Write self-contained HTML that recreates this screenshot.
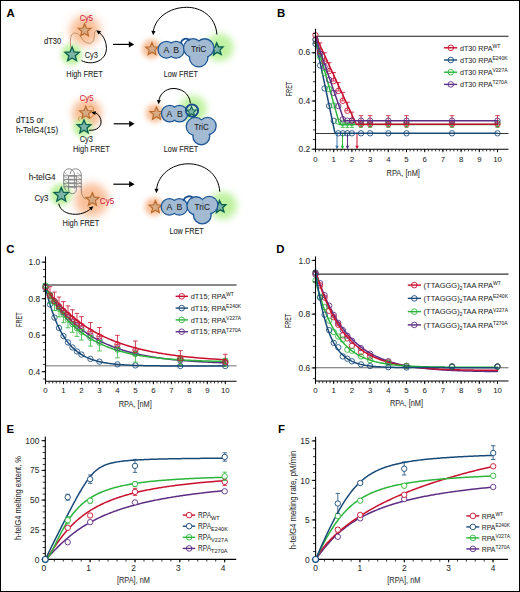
<!DOCTYPE html>
<html><head><meta charset="utf-8"><title>Figure</title>
<style>
html,body{margin:0;padding:0;background:#fff;}
body{width:520px;height:592px;overflow:hidden;font-family:"Liberation Sans",sans-serif;}
svg{display:block;}
</style></head><body>
<svg width="520" height="592" viewBox="0 0 520 592" style="font-family:&quot;Liberation Sans&quot;, sans-serif">
<defs>
<filter id="b24_2" x="-100%" y="-100%" width="300%" height="300%"><feGaussianBlur stdDeviation="2.42"/></filter><filter id="b25_3" x="-100%" y="-100%" width="300%" height="300%"><feGaussianBlur stdDeviation="2.53"/></filter><filter id="b27_5" x="-100%" y="-100%" width="300%" height="300%"><feGaussianBlur stdDeviation="2.75"/></filter><filter id="b28_6" x="-100%" y="-100%" width="300%" height="300%"><feGaussianBlur stdDeviation="2.86"/></filter><filter id="b35_2" x="-100%" y="-100%" width="300%" height="300%"><feGaussianBlur stdDeviation="3.52"/></filter><filter id="b36_3" x="-100%" y="-100%" width="300%" height="300%"><feGaussianBlur stdDeviation="3.63"/></filter><filter id="b38_5" x="-100%" y="-100%" width="300%" height="300%"><feGaussianBlur stdDeviation="3.85"/></filter><filter id="b40_04" x="-100%" y="-100%" width="300%" height="300%"><feGaussianBlur stdDeviation="4"/></filter><filter id="b44" x="-100%" y="-100%" width="300%" height="300%"><feGaussianBlur stdDeviation="4.4"/></filter>
</defs>
<rect x="0" y="0" width="520" height="592" fill="#fff"/>
<text x="6.6" y="16.9" font-size="11.4" text-anchor="start" fill="#000" font-weight="bold">A</text>
<circle cx="85" cy="30.8" r="15.29" fill="#f9c09a" filter="url(#b40_04)"/>
<circle cx="71.5" cy="54.5" r="10.5" fill="#bff2a0" filter="url(#b27_5)"/>
<path d="M70.6,47.5 C70.2,41 70.3,36 72.2,34.2 C74.8,32 78.5,33.2 80.5,36.5 C82.5,40 85,43 89.5,43.2 C93,43.3 93.9,40 94.2,36.5 C94.4,33.5 94.6,31 96.3,30.2" stroke="#b88a62" stroke-width="0.9" fill="none"/>
<path d="M84.6,23.7 L86.37,27.96 L90.97,28.33 L87.47,31.33 L88.54,35.82 L84.6,33.41 L80.66,35.82 L81.73,31.33 L78.23,28.33 L82.83,27.96Z" stroke="#b9692a" stroke-width="1.15" fill="#d6ab86" stroke-linejoin="miter"/>
<path d="M72.1,47.1 L74.08,51.87 L79.23,52.28 L75.31,55.64 L76.51,60.67 L72.1,57.98 L67.69,60.67 L68.89,55.64 L64.97,52.28 L70.12,51.87Z" stroke="#0a604e" stroke-width="1.35" fill="#7db6a7" stroke-linejoin="miter"/>
<path d="M81.5,60.6 C93,66.5 108,60 106.3,46 C105.5,39 102,34.5 98.8,32.2" stroke="#000" stroke-width="1" fill="none"/>
<path d="M96.2,30.2 L101.06,31.22 L98.54,34.58 Z" fill="#000"/>
<text x="86.3" y="20.7" font-size="8.6" text-anchor="middle" fill="#d2203f" font-weight="normal" textLength="13.2" lengthAdjust="spacingAndGlyphs" stroke="#d2203f" stroke-width="0.08">Cy5</text>
<text x="44" y="44.2" font-size="8.6" text-anchor="start" fill="#1e1e1e" font-weight="normal" textLength="17.3" lengthAdjust="spacingAndGlyphs" stroke="#1e1e1e" stroke-width="0.08">dT30</text>
<text x="84.8" y="57.5" font-size="8.6" text-anchor="start" fill="#1e1e1e" font-weight="normal" textLength="13.1" lengthAdjust="spacingAndGlyphs" stroke="#1e1e1e" stroke-width="0.08">Cy3</text>
<text x="66.3" y="76.9" font-size="8.6" text-anchor="start" fill="#1e1e1e" font-weight="normal" textLength="36.5" lengthAdjust="spacingAndGlyphs" stroke="#1e1e1e" stroke-width="0.08">High FRET</text>
<line x1="113" y1="44.4" x2="130" y2="44.4" stroke="#000" stroke-width="1.2"/>
<path d="M134.2,44.4 L128.8,47.5 L128.8,41.3 Z" fill="#000"/>
<circle cx="151.5" cy="49" r="9.66" fill="#f9c09a" filter="url(#b25_3)"/>
<circle cx="219.5" cy="47.5" r="13.86" fill="#bff2a0" filter="url(#b36_3)"/>
<path d="M152,42.6 L153.75,46.8 L158.28,47.16 L154.82,50.12 L155.88,54.54 L152,52.17 L148.12,54.54 L149.18,50.12 L145.72,47.16 L150.25,46.8Z" stroke="#b9692a" stroke-width="1.15" fill="#d6ab86" stroke-linejoin="miter"/>
<circle cx="166.4" cy="49.7" r="7.7" stroke="#1c5696" stroke-width="2.6" fill="#a2bbd3"/>
<circle cx="176" cy="49.7" r="7.7" stroke="#1c5696" stroke-width="2.6" fill="#a2bbd3"/>
<circle cx="166.4" cy="49.7" r="7.7" stroke="none" stroke-width="1" fill="#a2bbd3"/>
<circle cx="176" cy="49.7" r="7.7" stroke="none" stroke-width="1" fill="#a2bbd3"/>
<path d="M216.55,42.92 L218.55,46.92 L223.03,46.97 L219.84,50.11 L221.18,54.38 L217.2,52.32 L213.56,54.91 L214.29,50.5 L210.69,47.83 L215.12,47.16Z" stroke="#0a604e" stroke-width="1.35" fill="#7db6a7" stroke-linejoin="miter"/>
<circle cx="192.9" cy="48" r="8.7" stroke="#1c5696" stroke-width="2.6" fill="#a2bbd3"/>
<circle cx="204.7" cy="48" r="8.6" stroke="#1c5696" stroke-width="2.6" fill="#a2bbd3"/>
<circle cx="198.7" cy="57.6" r="8.6" stroke="#1c5696" stroke-width="2.6" fill="#a2bbd3"/>
<circle cx="192.9" cy="48" r="8.7" stroke="none" stroke-width="1" fill="#a2bbd3"/>
<circle cx="204.7" cy="48" r="8.6" stroke="none" stroke-width="1" fill="#a2bbd3"/>
<circle cx="198.7" cy="57.6" r="8.6" stroke="none" stroke-width="1" fill="#a2bbd3"/>
<path d="M180.8,43.4 C181.9,38.6 187.0,37.0 189.6,40.6" stroke="#1b5190" stroke-width="1.8" fill="none"/>
<text x="166.4" y="52.6" font-size="8.7" text-anchor="middle" fill="#1e1e1e" font-weight="normal" stroke="#1e1e1e" stroke-width="0.08">A</text>
<text x="176.2" y="52.6" font-size="8.7" text-anchor="middle" fill="#1e1e1e" font-weight="normal" stroke="#1e1e1e" stroke-width="0.08">B</text>
<text x="198.6" y="52.4" font-size="9" text-anchor="middle" fill="#1e1e1e" font-weight="normal" textLength="15.4" lengthAdjust="spacingAndGlyphs" stroke="#1e1e1e" stroke-width="0.08">TriC</text>
<path d="M216.9,34.5 C215.5,16 201,7.2 186.5,7.3 C169,7.5 155.5,18 153.4,30.8" stroke="#000" stroke-width="1" fill="none"/>
<path d="M153.2,35.3 L151.33,30.7 L155.52,30.91 Z" fill="#000"/>
<text x="163.8" y="76.9" font-size="8.6" text-anchor="start" fill="#1e1e1e" font-weight="normal" textLength="34.2" lengthAdjust="spacingAndGlyphs" stroke="#1e1e1e" stroke-width="0.08">Low FRET</text>
<circle cx="87" cy="113.5" r="14.7" fill="#f9c09a" filter="url(#b38_5)"/>
<circle cx="83" cy="127.5" r="9.66" fill="#bff2a0" filter="url(#b25_3)"/>
<path d="M79.5,121 C77.8,118.5 79,116.5 80.8,116.2" stroke="#d4863a" stroke-width="0.9" fill="none"/>
<path d="M88.5,107.5 C90,105.3 92.5,105.5 93.2,107.8 C93.8,110 92.8,112 93.3,113.8 C93.8,116 91.5,117.8 89.3,117.4" stroke="#d4863a" stroke-width="0.9" fill="none"/>
<path d="M85.8,106.3 L87.55,110.5 L92.08,110.86 L88.62,113.82 L89.68,118.24 L85.8,115.87 L81.92,118.24 L82.98,113.82 L79.52,110.86 L84.05,110.5Z" stroke="#b9692a" stroke-width="1.15" fill="#d6ab86" stroke-linejoin="miter"/>
<path d="M84,119.9 L85.88,124.42 L90.75,124.81 L87.04,127.99 L88.17,132.74 L84,130.19 L79.83,132.74 L80.96,127.99 L77.25,124.81 L82.12,124.42Z" stroke="#0a604e" stroke-width="1.35" fill="#7db6a7" stroke-linejoin="miter"/>
<path d="M89,130.2 C96.5,131 102.5,126.5 100.8,119.5 C99.8,116 97.5,113.5 95.2,112.8" stroke="#000" stroke-width="1" fill="none"/>
<path d="M91.4,112.4 L95.85,111.05 L95.26,115 Z" fill="#000"/>
<text x="86.6" y="101" font-size="8.6" text-anchor="middle" fill="#d2203f" font-weight="normal" textLength="13.6" lengthAdjust="spacingAndGlyphs" stroke="#d2203f" stroke-width="0.08">Cy5</text>
<text x="86.2" y="141.8" font-size="8.6" text-anchor="middle" fill="#1e1e1e" font-weight="normal" textLength="13.1" lengthAdjust="spacingAndGlyphs" stroke="#1e1e1e" stroke-width="0.08">Cy3</text>
<text x="73" y="152.3" font-size="8.6" text-anchor="start" fill="#1e1e1e" font-weight="normal" textLength="36.8" lengthAdjust="spacingAndGlyphs" stroke="#1e1e1e" stroke-width="0.08">High FRET</text>
<text x="15.9" y="122.6" font-size="8.6" text-anchor="start" fill="#1e1e1e" font-weight="normal" textLength="27.9" lengthAdjust="spacingAndGlyphs" stroke="#1e1e1e" stroke-width="0.08">dT15 or</text>
<text x="15.9" y="132.7" font-size="8.6" text-anchor="start" fill="#1e1e1e" font-weight="normal" textLength="42.3" lengthAdjust="spacingAndGlyphs" stroke="#1e1e1e" stroke-width="0.08">h-TelG4(15)</text>
<line x1="113.7" y1="123.8" x2="130" y2="123.8" stroke="#000" stroke-width="1.2"/>
<path d="M134.6,123.8 L129.2,126.9 L129.2,120.7 Z" fill="#000"/>
<circle cx="155" cy="113.3" r="9.24" fill="#f9c09a" filter="url(#b24_2)"/>
<circle cx="193" cy="109" r="13.44" fill="#bff2a0" filter="url(#b35_2)"/>
<path d="M156.5,106.9 L158.3,111.22 L162.97,111.6 L159.41,114.65 L160.5,119.2 L156.5,116.76 L152.5,119.2 L153.59,114.65 L150.03,111.6 L154.7,111.22Z" stroke="#b9692a" stroke-width="1.15" fill="#d6ab86" stroke-linejoin="miter"/>
<circle cx="169.7" cy="113.6" r="7.6" stroke="#1c5696" stroke-width="2.6" fill="#a2bbd3"/>
<circle cx="179.5" cy="113.6" r="7.6" stroke="#1c5696" stroke-width="2.6" fill="#a2bbd3"/>
<circle cx="169.7" cy="113.6" r="7.6" stroke="none" stroke-width="1" fill="#a2bbd3"/>
<circle cx="179.5" cy="113.6" r="7.6" stroke="none" stroke-width="1" fill="#a2bbd3"/>
<circle cx="195.3" cy="126.5" r="8.4" stroke="#1c5696" stroke-width="2.6" fill="#a2bbd3"/>
<circle cx="207.5" cy="126" r="8" stroke="#1c5696" stroke-width="2.6" fill="#a2bbd3"/>
<circle cx="201.3" cy="136.3" r="7.8" stroke="#1c5696" stroke-width="2.6" fill="#a2bbd3"/>
<circle cx="195.3" cy="126.5" r="8.4" stroke="none" stroke-width="1" fill="#a2bbd3"/>
<circle cx="207.5" cy="126" r="8" stroke="none" stroke-width="1" fill="#a2bbd3"/>
<circle cx="201.3" cy="136.3" r="7.8" stroke="none" stroke-width="1" fill="#a2bbd3"/>
<circle cx="192" cy="110.6" r="6.1" stroke="#1b4e8c" stroke-width="2" fill="#c4ecc0"/>
<path d="M191.5,106.4 L192.88,109.71 L196.45,109.99 L193.73,112.32 L194.56,115.81 L191.5,113.94 L188.44,115.81 L189.27,112.32 L186.55,109.99 L190.12,109.71Z" stroke="#0a604e" stroke-width="1.05" fill="#7db6a7" stroke-linejoin="miter"/>
<text x="169.3" y="116.5" font-size="8.7" text-anchor="middle" fill="#1e1e1e" font-weight="normal" stroke="#1e1e1e" stroke-width="0.08">A</text>
<text x="179.8" y="116.5" font-size="8.7" text-anchor="middle" fill="#1e1e1e" font-weight="normal" stroke="#1e1e1e" stroke-width="0.08">B</text>
<text x="201.4" y="130.3" font-size="9" text-anchor="middle" fill="#1e1e1e" font-weight="normal" textLength="14.5" lengthAdjust="spacingAndGlyphs" stroke="#1e1e1e" stroke-width="0.08">TriC</text>
<path d="M190.4,103.4 C189.5,93 181,88.3 173,88.5 C165,88.8 159.8,94.5 158.9,100.5" stroke="#000" stroke-width="1" fill="none"/>
<path d="M158.6,104.2 L156.88,100.07 L160.87,100.35 Z" fill="#000"/>
<text x="163.8" y="152.3" font-size="8.6" text-anchor="start" fill="#1e1e1e" font-weight="normal" textLength="34.5" lengthAdjust="spacingAndGlyphs" stroke="#1e1e1e" stroke-width="0.08">Low FRET</text>
<circle cx="91.5" cy="200" r="16.8" fill="#f9c09a" filter="url(#b44)"/>
<circle cx="61" cy="194.5" r="10.92" fill="#bff2a0" filter="url(#b28_6)"/>
<text x="28.7" y="179.9" font-size="8.6" text-anchor="start" fill="#1e1e1e" font-weight="normal" textLength="26.9" lengthAdjust="spacingAndGlyphs" stroke="#1e1e1e" stroke-width="0.08">h-telG4</text>
<path d="M66.5,190.3 C64.6,189.4 63.7,186.5 63.7,183 L63.7,175 C63.7,171.2 66,168.8 69,168.8 C72,168.8 74.4,171.4 74.4,175 L74.4,188.5" stroke="#737373" stroke-width="0.85" fill="none"/>
<path d="M70.2,174 C70.2,171 72.5,168.8 75.6,168.8 C79,168.8 81.3,171.6 81.3,175.5 L81.3,190.5" stroke="#737373" stroke-width="0.85" fill="none"/>
<path d="M68.6,176 L68.6,189.5 C68.6,192.2 70.2,193.7 72.4,193.7 C74.6,193.7 76.3,192.2 76.3,189.5 L76.3,176" stroke="#737373" stroke-width="0.85" fill="none"/>
<path d="M81.3,190 C81.3,194.3 82.6,197.6 85.8,199.3" stroke="#9c7a5c" stroke-width="0.9" fill="none"/>
<line x1="63.7" y1="175.8" x2="81.3" y2="175.8" stroke="#737373" stroke-width="0.85"/>
<rect x="68.6" y="174.95" width="7.7" height="1.7" fill="#8c8c8c"/>
<line x1="63.7" y1="179.6" x2="81.3" y2="179.6" stroke="#737373" stroke-width="0.85"/>
<rect x="68.6" y="178.75" width="7.7" height="1.7" fill="#8c8c8c"/>
<line x1="63.7" y1="183.3" x2="81.3" y2="183.3" stroke="#737373" stroke-width="0.85"/>
<rect x="68.6" y="182.45" width="7.7" height="1.7" fill="#8c8c8c"/>
<line x1="63.7" y1="186.8" x2="81.3" y2="186.8" stroke="#737373" stroke-width="0.85"/>
<rect x="68.6" y="185.95" width="7.7" height="1.7" fill="#8c8c8c"/>
<line x1="64.2" y1="172.3" x2="68.6" y2="175.8" stroke="#737373" stroke-width="0.55"/>
<line x1="76.6" y1="172.3" x2="81" y2="175.8" stroke="#737373" stroke-width="0.55"/>
<line x1="64.2" y1="176.6" x2="68.6" y2="179.6" stroke="#737373" stroke-width="0.55"/>
<line x1="76.6" y1="176.6" x2="81" y2="179.6" stroke="#737373" stroke-width="0.55"/>
<line x1="64.2" y1="180.4" x2="68.6" y2="183.3" stroke="#737373" stroke-width="0.55"/>
<line x1="76.6" y1="180.4" x2="81" y2="183.3" stroke="#737373" stroke-width="0.55"/>
<line x1="64.2" y1="184.1" x2="68.6" y2="186.8" stroke="#737373" stroke-width="0.55"/>
<line x1="76.6" y1="184.1" x2="81" y2="186.8" stroke="#737373" stroke-width="0.55"/>
<path d="M61.3,187.4 L63.31,192.23 L68.53,192.65 L64.55,196.06 L65.77,201.15 L61.3,198.42 L56.83,201.15 L58.05,196.06 L54.07,192.65 L59.29,192.23Z" stroke="#0a604e" stroke-width="1.35" fill="#7db6a7" stroke-linejoin="miter"/>
<path d="M92.4,192.7 L94.23,197.09 L98.96,197.47 L95.35,200.56 L96.46,205.18 L92.4,202.7 L88.34,205.18 L89.45,200.56 L85.84,197.47 L90.57,197.09Z" stroke="#b9692a" stroke-width="1.15" fill="#d6ab86" stroke-linejoin="miter"/>
<path d="M58.7,203.6 C60,210.5 67,214.4 75.5,214.3 C83,214.2 88,211 90.6,208.8" stroke="#000" stroke-width="1" fill="none"/>
<path d="M93.4,206.3 L91.42,210.61 L88.83,207.56 Z" fill="#000"/>
<text x="34.4" y="201.2" font-size="8.6" text-anchor="start" fill="#1e1e1e" font-weight="normal" textLength="14.1" lengthAdjust="spacingAndGlyphs" stroke="#1e1e1e" stroke-width="0.08">Cy3</text>
<text x="99.8" y="204" font-size="8.6" text-anchor="start" fill="#d2203f" font-weight="normal" textLength="14.4" lengthAdjust="spacingAndGlyphs" stroke="#d2203f" stroke-width="0.08">Cy5</text>
<text x="62.5" y="226.3" font-size="8.6" text-anchor="start" fill="#1e1e1e" font-weight="normal" textLength="36.9" lengthAdjust="spacingAndGlyphs" stroke="#1e1e1e" stroke-width="0.08">High FRET</text>
<line x1="113.3" y1="184.2" x2="130" y2="184.2" stroke="#000" stroke-width="1.2"/>
<path d="M134.6,184.2 L129.2,187.3 L129.2,181.1 Z" fill="#000"/>
<circle cx="154" cy="206.8" r="9.24" fill="#f9c09a" filter="url(#b24_2)"/>
<circle cx="223" cy="205.5" r="13.86" fill="#bff2a0" filter="url(#b36_3)"/>
<path d="M155.4,200.6 L157.15,204.8 L161.68,205.16 L158.22,208.12 L159.28,212.54 L155.4,210.17 L151.52,212.54 L152.58,208.12 L149.12,205.16 L153.65,204.8Z" stroke="#b9692a" stroke-width="1.15" fill="#d6ab86" stroke-linejoin="miter"/>
<circle cx="169.4" cy="206.8" r="7.6" stroke="#1c5696" stroke-width="2.6" fill="#a2bbd3"/>
<circle cx="179.4" cy="206.8" r="7.6" stroke="#1c5696" stroke-width="2.6" fill="#a2bbd3"/>
<circle cx="169.4" cy="206.8" r="7.6" stroke="none" stroke-width="1" fill="#a2bbd3"/>
<circle cx="179.4" cy="206.8" r="7.6" stroke="none" stroke-width="1" fill="#a2bbd3"/>
<path d="M219.45,200.62 L221.43,204.56 L225.83,204.6 L222.69,207.7 L224.01,211.9 L220.1,209.87 L216.51,212.43 L217.23,208.08 L213.69,205.45 L218.05,204.79Z" stroke="#0a604e" stroke-width="1.35" fill="#7db6a7" stroke-linejoin="miter"/>
<circle cx="196" cy="205.8" r="8.4" stroke="#1c5696" stroke-width="2.6" fill="#a2bbd3"/>
<circle cx="209.2" cy="205" r="8" stroke="#1c5696" stroke-width="2.6" fill="#a2bbd3"/>
<circle cx="202.3" cy="215" r="8.2" stroke="#1c5696" stroke-width="2.6" fill="#a2bbd3"/>
<circle cx="196" cy="205.8" r="8.4" stroke="none" stroke-width="1" fill="#a2bbd3"/>
<circle cx="209.2" cy="205" r="8" stroke="none" stroke-width="1" fill="#a2bbd3"/>
<circle cx="202.3" cy="215" r="8.2" stroke="none" stroke-width="1" fill="#a2bbd3"/>
<path d="M183.4,201.0 C184.6,196.3 189.8,194.8 193.0,198.0" stroke="#1b5190" stroke-width="1.8" fill="none"/>
<text x="169.4" y="209.7" font-size="8.7" text-anchor="middle" fill="#1e1e1e" font-weight="normal" stroke="#1e1e1e" stroke-width="0.08">A</text>
<text x="179.4" y="209.7" font-size="8.7" text-anchor="middle" fill="#1e1e1e" font-weight="normal" stroke="#1e1e1e" stroke-width="0.08">B</text>
<text x="202.2" y="209.8" font-size="9" text-anchor="middle" fill="#1e1e1e" font-weight="normal" textLength="15.4" lengthAdjust="spacingAndGlyphs" stroke="#1e1e1e" stroke-width="0.08">TriC</text>
<path d="M219.8,191.7 C218.5,173 203,163.6 188,163.8 C171,164 158.3,175.5 156.6,188.7" stroke="#000" stroke-width="1" fill="none"/>
<path d="M156.4,193.2 L154.44,188.64 L158.63,188.76 Z" fill="#000"/>
<text x="169.5" y="233.6" font-size="8.6" text-anchor="start" fill="#1e1e1e" font-weight="normal" textLength="34.3" lengthAdjust="spacingAndGlyphs" stroke="#1e1e1e" stroke-width="0.08">Low FRET</text>
<text x="277" y="16.8" font-size="11.4" text-anchor="start" fill="#000" font-weight="bold">B</text>
<line x1="315.5" y1="36.3" x2="508.5" y2="36.3" stroke="#1a1a1a" stroke-width="1.1"/>
<line x1="315.5" y1="133.5" x2="508.5" y2="133.5" stroke="#222" stroke-width="0.9"/>
<line x1="337" y1="133.5" x2="337" y2="146" stroke="#3a74b0" stroke-width="1"/>
<path d="M337,149.3 L335.3,145.7 L338.7,145.7 Z" fill="#3a74b0"/>
<line x1="342.5" y1="133.5" x2="342.5" y2="146" stroke="#2bb53a" stroke-width="1"/>
<path d="M342.5,149.3 L340.8,145.7 L344.2,145.7 Z" fill="#2bb53a"/>
<line x1="347.5" y1="133.5" x2="347.5" y2="146" stroke="#5d2d84" stroke-width="1"/>
<path d="M347.5,149.3 L345.8,145.7 L349.2,145.7 Z" fill="#5d2d84"/>
<line x1="357" y1="133.5" x2="357" y2="146" stroke="#c8102e" stroke-width="1"/>
<path d="M357,149.3 L355.3,145.7 L358.7,145.7 Z" fill="#c8102e"/>
<circle cx="315.5" cy="43.9" r="2.7" stroke="#184a78" stroke-width="0.85" fill="none"/>
<circle cx="320.05" cy="65.4" r="2.7" stroke="#184a78" stroke-width="0.85" fill="none"/>
<circle cx="324.6" cy="88.4" r="2.7" stroke="#184a78" stroke-width="0.85" fill="none"/>
<circle cx="329.15" cy="106" r="2.7" stroke="#184a78" stroke-width="0.85" fill="none"/>
<circle cx="333.7" cy="120.8" r="2.7" stroke="#184a78" stroke-width="0.85" fill="none"/>
<circle cx="338.25" cy="133.3" r="2.7" stroke="#184a78" stroke-width="0.85" fill="none"/>
<circle cx="342.8" cy="133.3" r="2.7" stroke="#184a78" stroke-width="0.85" fill="none"/>
<circle cx="347.35" cy="133.3" r="2.7" stroke="#184a78" stroke-width="0.85" fill="none"/>
<circle cx="351.9" cy="133.3" r="2.7" stroke="#184a78" stroke-width="0.85" fill="none"/>
<circle cx="361" cy="133.3" r="2.7" stroke="#184a78" stroke-width="0.85" fill="none"/>
<circle cx="370.1" cy="133.3" r="2.7" stroke="#184a78" stroke-width="0.85" fill="none"/>
<circle cx="388.3" cy="133.3" r="2.7" stroke="#184a78" stroke-width="0.85" fill="none"/>
<circle cx="406.5" cy="133.3" r="2.7" stroke="#184a78" stroke-width="0.85" fill="none"/>
<circle cx="452" cy="133.3" r="2.7" stroke="#184a78" stroke-width="0.85" fill="none"/>
<circle cx="497.5" cy="133.3" r="2.7" stroke="#184a78" stroke-width="0.85" fill="none"/>
<path d="M315.5,40.5 L335,133.3 L497.5,133.3" stroke="#184a78" stroke-width="1.5" fill="none" stroke-linejoin="round" stroke-linecap="round"/>
<circle cx="315.5" cy="39.6" r="2.7" stroke="#2bb53a" stroke-width="0.85" fill="none"/>
<circle cx="320.05" cy="56.72" r="2.7" stroke="#2bb53a" stroke-width="0.85" fill="none"/>
<circle cx="324.6" cy="72.94" r="2.7" stroke="#2bb53a" stroke-width="0.85" fill="none"/>
<circle cx="329.15" cy="89.15" r="2.7" stroke="#2bb53a" stroke-width="0.85" fill="none"/>
<circle cx="333.7" cy="105.37" r="2.7" stroke="#2bb53a" stroke-width="0.85" fill="none"/>
<circle cx="338.25" cy="121.59" r="2.7" stroke="#2bb53a" stroke-width="0.85" fill="none"/>
<line x1="342.8" y1="122.9" x2="342.8" y2="127.4" stroke="#2bb53a" stroke-width="0.8"/>
<line x1="340.8" y1="122.9" x2="344.8" y2="122.9" stroke="#2bb53a" stroke-width="0.8"/>
<line x1="340.8" y1="127.4" x2="344.8" y2="127.4" stroke="#2bb53a" stroke-width="0.8"/>
<circle cx="342.8" cy="122.9" r="2.7" stroke="#2bb53a" stroke-width="0.85" fill="none"/>
<line x1="347.35" y1="122.9" x2="347.35" y2="127.4" stroke="#2bb53a" stroke-width="0.8"/>
<line x1="345.35" y1="122.9" x2="349.35" y2="122.9" stroke="#2bb53a" stroke-width="0.8"/>
<line x1="345.35" y1="127.4" x2="349.35" y2="127.4" stroke="#2bb53a" stroke-width="0.8"/>
<circle cx="347.35" cy="122.9" r="2.7" stroke="#2bb53a" stroke-width="0.85" fill="none"/>
<line x1="351.9" y1="122.9" x2="351.9" y2="127.4" stroke="#2bb53a" stroke-width="0.8"/>
<line x1="349.9" y1="122.9" x2="353.9" y2="122.9" stroke="#2bb53a" stroke-width="0.8"/>
<line x1="349.9" y1="127.4" x2="353.9" y2="127.4" stroke="#2bb53a" stroke-width="0.8"/>
<circle cx="351.9" cy="122.9" r="2.7" stroke="#2bb53a" stroke-width="0.85" fill="none"/>
<line x1="361" y1="122.9" x2="361" y2="127.4" stroke="#2bb53a" stroke-width="0.8"/>
<line x1="359" y1="122.9" x2="363" y2="122.9" stroke="#2bb53a" stroke-width="0.8"/>
<line x1="359" y1="127.4" x2="363" y2="127.4" stroke="#2bb53a" stroke-width="0.8"/>
<circle cx="361" cy="122.9" r="2.7" stroke="#2bb53a" stroke-width="0.85" fill="none"/>
<line x1="370.1" y1="122.9" x2="370.1" y2="127.4" stroke="#2bb53a" stroke-width="0.8"/>
<line x1="368.1" y1="122.9" x2="372.1" y2="122.9" stroke="#2bb53a" stroke-width="0.8"/>
<line x1="368.1" y1="127.4" x2="372.1" y2="127.4" stroke="#2bb53a" stroke-width="0.8"/>
<circle cx="370.1" cy="122.9" r="2.7" stroke="#2bb53a" stroke-width="0.85" fill="none"/>
<line x1="388.3" y1="122.9" x2="388.3" y2="127.4" stroke="#2bb53a" stroke-width="0.8"/>
<line x1="386.3" y1="122.9" x2="390.3" y2="122.9" stroke="#2bb53a" stroke-width="0.8"/>
<line x1="386.3" y1="127.4" x2="390.3" y2="127.4" stroke="#2bb53a" stroke-width="0.8"/>
<circle cx="388.3" cy="122.9" r="2.7" stroke="#2bb53a" stroke-width="0.85" fill="none"/>
<line x1="406.5" y1="122.9" x2="406.5" y2="127.4" stroke="#2bb53a" stroke-width="0.8"/>
<line x1="404.5" y1="122.9" x2="408.5" y2="122.9" stroke="#2bb53a" stroke-width="0.8"/>
<line x1="404.5" y1="127.4" x2="408.5" y2="127.4" stroke="#2bb53a" stroke-width="0.8"/>
<circle cx="406.5" cy="122.9" r="2.7" stroke="#2bb53a" stroke-width="0.85" fill="none"/>
<line x1="452" y1="122.9" x2="452" y2="127.4" stroke="#2bb53a" stroke-width="0.8"/>
<line x1="450" y1="122.9" x2="454" y2="122.9" stroke="#2bb53a" stroke-width="0.8"/>
<line x1="450" y1="127.4" x2="454" y2="127.4" stroke="#2bb53a" stroke-width="0.8"/>
<circle cx="452" cy="122.9" r="2.7" stroke="#2bb53a" stroke-width="0.85" fill="none"/>
<line x1="497.5" y1="122.9" x2="497.5" y2="127.4" stroke="#2bb53a" stroke-width="0.8"/>
<line x1="495.5" y1="122.9" x2="499.5" y2="122.9" stroke="#2bb53a" stroke-width="0.8"/>
<line x1="495.5" y1="127.4" x2="499.5" y2="127.4" stroke="#2bb53a" stroke-width="0.8"/>
<circle cx="497.5" cy="122.9" r="2.7" stroke="#2bb53a" stroke-width="0.85" fill="none"/>
<path d="M315.5,38.5 L339.6,124.4 L497.5,124.4" stroke="#2bb53a" stroke-width="1.5" fill="none" stroke-linejoin="round" stroke-linecap="round"/>
<circle cx="315.5" cy="35.2" r="2.7" stroke="#c8102e" stroke-width="0.85" fill="none"/>
<line x1="320.05" y1="42.89" x2="320.05" y2="51.39" stroke="#c8102e" stroke-width="0.8"/>
<line x1="317.75" y1="42.89" x2="322.35" y2="42.89" stroke="#c8102e" stroke-width="0.8"/>
<line x1="317.75" y1="51.39" x2="322.35" y2="51.39" stroke="#c8102e" stroke-width="0.8"/>
<circle cx="320.05" cy="51.39" r="2.7" stroke="#c8102e" stroke-width="0.85" fill="none"/>
<line x1="324.6" y1="52.78" x2="324.6" y2="61.28" stroke="#c8102e" stroke-width="0.8"/>
<line x1="322.3" y1="52.78" x2="326.9" y2="52.78" stroke="#c8102e" stroke-width="0.8"/>
<line x1="322.3" y1="61.28" x2="326.9" y2="61.28" stroke="#c8102e" stroke-width="0.8"/>
<circle cx="324.6" cy="61.28" r="2.7" stroke="#c8102e" stroke-width="0.85" fill="none"/>
<line x1="329.15" y1="62.68" x2="329.15" y2="71.18" stroke="#c8102e" stroke-width="0.8"/>
<line x1="326.85" y1="62.68" x2="331.45" y2="62.68" stroke="#c8102e" stroke-width="0.8"/>
<line x1="326.85" y1="71.18" x2="331.45" y2="71.18" stroke="#c8102e" stroke-width="0.8"/>
<circle cx="329.15" cy="71.18" r="2.7" stroke="#c8102e" stroke-width="0.85" fill="none"/>
<line x1="333.7" y1="72.57" x2="333.7" y2="81.07" stroke="#c8102e" stroke-width="0.8"/>
<line x1="331.4" y1="72.57" x2="336" y2="72.57" stroke="#c8102e" stroke-width="0.8"/>
<line x1="331.4" y1="81.07" x2="336" y2="81.07" stroke="#c8102e" stroke-width="0.8"/>
<circle cx="333.7" cy="81.07" r="2.7" stroke="#c8102e" stroke-width="0.85" fill="none"/>
<line x1="338.25" y1="82.46" x2="338.25" y2="90.96" stroke="#c8102e" stroke-width="0.8"/>
<line x1="335.95" y1="82.46" x2="340.55" y2="82.46" stroke="#c8102e" stroke-width="0.8"/>
<line x1="335.95" y1="90.96" x2="340.55" y2="90.96" stroke="#c8102e" stroke-width="0.8"/>
<circle cx="338.25" cy="90.96" r="2.7" stroke="#c8102e" stroke-width="0.85" fill="none"/>
<line x1="342.8" y1="92.35" x2="342.8" y2="100.85" stroke="#c8102e" stroke-width="0.8"/>
<line x1="340.5" y1="92.35" x2="345.1" y2="92.35" stroke="#c8102e" stroke-width="0.8"/>
<line x1="340.5" y1="100.85" x2="345.1" y2="100.85" stroke="#c8102e" stroke-width="0.8"/>
<circle cx="342.8" cy="100.85" r="2.7" stroke="#c8102e" stroke-width="0.85" fill="none"/>
<line x1="347.35" y1="102.24" x2="347.35" y2="110.74" stroke="#c8102e" stroke-width="0.8"/>
<line x1="345.05" y1="102.24" x2="349.65" y2="102.24" stroke="#c8102e" stroke-width="0.8"/>
<line x1="345.05" y1="110.74" x2="349.65" y2="110.74" stroke="#c8102e" stroke-width="0.8"/>
<circle cx="347.35" cy="110.74" r="2.7" stroke="#c8102e" stroke-width="0.85" fill="none"/>
<line x1="351.9" y1="112.13" x2="351.9" y2="120.63" stroke="#c8102e" stroke-width="0.8"/>
<line x1="349.6" y1="112.13" x2="354.2" y2="112.13" stroke="#c8102e" stroke-width="0.8"/>
<line x1="349.6" y1="120.63" x2="354.2" y2="120.63" stroke="#c8102e" stroke-width="0.8"/>
<circle cx="351.9" cy="120.63" r="2.7" stroke="#c8102e" stroke-width="0.85" fill="none"/>
<line x1="361" y1="115.7" x2="361" y2="124.2" stroke="#c8102e" stroke-width="0.8"/>
<line x1="358.7" y1="115.7" x2="363.3" y2="115.7" stroke="#c8102e" stroke-width="0.8"/>
<line x1="358.7" y1="124.2" x2="363.3" y2="124.2" stroke="#c8102e" stroke-width="0.8"/>
<circle cx="361" cy="124.2" r="2.7" stroke="#c8102e" stroke-width="0.85" fill="none"/>
<line x1="370.1" y1="115.7" x2="370.1" y2="124.2" stroke="#c8102e" stroke-width="0.8"/>
<line x1="367.8" y1="115.7" x2="372.4" y2="115.7" stroke="#c8102e" stroke-width="0.8"/>
<line x1="367.8" y1="124.2" x2="372.4" y2="124.2" stroke="#c8102e" stroke-width="0.8"/>
<circle cx="370.1" cy="124.2" r="2.7" stroke="#c8102e" stroke-width="0.85" fill="none"/>
<line x1="388.3" y1="115.7" x2="388.3" y2="124.2" stroke="#c8102e" stroke-width="0.8"/>
<line x1="386" y1="115.7" x2="390.6" y2="115.7" stroke="#c8102e" stroke-width="0.8"/>
<line x1="386" y1="124.2" x2="390.6" y2="124.2" stroke="#c8102e" stroke-width="0.8"/>
<circle cx="388.3" cy="124.2" r="2.7" stroke="#c8102e" stroke-width="0.85" fill="none"/>
<line x1="406.5" y1="115.7" x2="406.5" y2="124.2" stroke="#c8102e" stroke-width="0.8"/>
<line x1="404.2" y1="115.7" x2="408.8" y2="115.7" stroke="#c8102e" stroke-width="0.8"/>
<line x1="404.2" y1="124.2" x2="408.8" y2="124.2" stroke="#c8102e" stroke-width="0.8"/>
<circle cx="406.5" cy="124.2" r="2.7" stroke="#c8102e" stroke-width="0.85" fill="none"/>
<line x1="452" y1="115.7" x2="452" y2="124.2" stroke="#c8102e" stroke-width="0.8"/>
<line x1="449.7" y1="115.7" x2="454.3" y2="115.7" stroke="#c8102e" stroke-width="0.8"/>
<line x1="449.7" y1="124.2" x2="454.3" y2="124.2" stroke="#c8102e" stroke-width="0.8"/>
<circle cx="452" cy="124.2" r="2.7" stroke="#c8102e" stroke-width="0.85" fill="none"/>
<line x1="497.5" y1="115.7" x2="497.5" y2="124.2" stroke="#c8102e" stroke-width="0.8"/>
<line x1="495.2" y1="115.7" x2="499.8" y2="115.7" stroke="#c8102e" stroke-width="0.8"/>
<line x1="495.2" y1="124.2" x2="499.8" y2="124.2" stroke="#c8102e" stroke-width="0.8"/>
<circle cx="497.5" cy="124.2" r="2.7" stroke="#c8102e" stroke-width="0.85" fill="none"/>
<path d="M315.5,35.5 L356.3,124.2 L497.5,124.2" stroke="#c8102e" stroke-width="1.5" fill="none" stroke-linejoin="round" stroke-linecap="round"/>
<circle cx="315.5" cy="39.4" r="2.7" stroke="#5d2d84" stroke-width="0.85" fill="none"/>
<circle cx="320.05" cy="53.61" r="2.7" stroke="#5d2d84" stroke-width="0.85" fill="none"/>
<circle cx="324.6" cy="66.72" r="2.7" stroke="#5d2d84" stroke-width="0.85" fill="none"/>
<circle cx="329.15" cy="79.83" r="2.7" stroke="#5d2d84" stroke-width="0.85" fill="none"/>
<circle cx="333.7" cy="92.94" r="2.7" stroke="#5d2d84" stroke-width="0.85" fill="none"/>
<circle cx="338.25" cy="106.05" r="2.7" stroke="#5d2d84" stroke-width="0.85" fill="none"/>
<circle cx="342.8" cy="119.17" r="2.7" stroke="#5d2d84" stroke-width="0.85" fill="none"/>
<circle cx="347.35" cy="120.7" r="2.7" stroke="#5d2d84" stroke-width="0.85" fill="none"/>
<circle cx="351.9" cy="120.7" r="2.7" stroke="#5d2d84" stroke-width="0.85" fill="none"/>
<circle cx="361" cy="120.7" r="2.7" stroke="#5d2d84" stroke-width="0.85" fill="none"/>
<circle cx="370.1" cy="120.7" r="2.7" stroke="#5d2d84" stroke-width="0.85" fill="none"/>
<circle cx="388.3" cy="120.7" r="2.7" stroke="#5d2d84" stroke-width="0.85" fill="none"/>
<circle cx="406.5" cy="120.7" r="2.7" stroke="#5d2d84" stroke-width="0.85" fill="none"/>
<circle cx="452" cy="120.7" r="2.7" stroke="#5d2d84" stroke-width="0.85" fill="none"/>
<circle cx="497.5" cy="120.7" r="2.7" stroke="#5d2d84" stroke-width="0.85" fill="none"/>
<path d="M315.5,38 L344.2,120.7 L497.5,120.7" stroke="#5d2d84" stroke-width="1.5" fill="none" stroke-linejoin="round" stroke-linecap="round"/>
<line x1="315.5" y1="28.8" x2="315.5" y2="149.2" stroke="#000" stroke-width="1.1"/>
<line x1="312.9" y1="149.2" x2="315.5" y2="149.2" stroke="#000" stroke-width="0.8"/>
<line x1="312.9" y1="139.56" x2="315.5" y2="139.56" stroke="#000" stroke-width="0.8"/>
<line x1="312.9" y1="129.92" x2="315.5" y2="129.92" stroke="#000" stroke-width="0.8"/>
<line x1="312.9" y1="120.28" x2="315.5" y2="120.28" stroke="#000" stroke-width="0.8"/>
<line x1="312.9" y1="110.64" x2="315.5" y2="110.64" stroke="#000" stroke-width="0.8"/>
<line x1="312.9" y1="101" x2="315.5" y2="101" stroke="#000" stroke-width="0.8"/>
<line x1="312.9" y1="91.36" x2="315.5" y2="91.36" stroke="#000" stroke-width="0.8"/>
<line x1="312.9" y1="81.72" x2="315.5" y2="81.72" stroke="#000" stroke-width="0.8"/>
<line x1="312.9" y1="72.08" x2="315.5" y2="72.08" stroke="#000" stroke-width="0.8"/>
<line x1="312.9" y1="62.44" x2="315.5" y2="62.44" stroke="#000" stroke-width="0.8"/>
<line x1="312.9" y1="52.8" x2="315.5" y2="52.8" stroke="#000" stroke-width="0.8"/>
<line x1="312.9" y1="43.16" x2="315.5" y2="43.16" stroke="#000" stroke-width="0.8"/>
<line x1="312.9" y1="33.52" x2="315.5" y2="33.52" stroke="#000" stroke-width="0.8"/>
<line x1="311.7" y1="149.2" x2="315.5" y2="149.2" stroke="#000" stroke-width="0.9"/>
<text x="310.2" y="151.7" font-size="8.4" text-anchor="end" fill="#2b2b2b" font-weight="normal" stroke="#2b2b2b" stroke-width="0.05">0.2</text>
<line x1="311.7" y1="101" x2="315.5" y2="101" stroke="#000" stroke-width="0.9"/>
<text x="310.2" y="103.5" font-size="8.4" text-anchor="end" fill="#2b2b2b" font-weight="normal" stroke="#2b2b2b" stroke-width="0.05">0.4</text>
<line x1="311.7" y1="52.8" x2="315.5" y2="52.8" stroke="#000" stroke-width="0.9"/>
<text x="310.2" y="55.3" font-size="8.4" text-anchor="end" fill="#2b2b2b" font-weight="normal" stroke="#2b2b2b" stroke-width="0.05">0.6</text>
<line x1="315.5" y1="149.2" x2="508.5" y2="149.2" stroke="#000" stroke-width="1.1"/>
<line x1="315.5" y1="149.2" x2="315.5" y2="151.4" stroke="#000" stroke-width="0.8"/>
<line x1="319.14" y1="149.2" x2="319.14" y2="151.4" stroke="#000" stroke-width="0.8"/>
<line x1="322.78" y1="149.2" x2="322.78" y2="151.4" stroke="#000" stroke-width="0.8"/>
<line x1="326.42" y1="149.2" x2="326.42" y2="151.4" stroke="#000" stroke-width="0.8"/>
<line x1="330.06" y1="149.2" x2="330.06" y2="151.4" stroke="#000" stroke-width="0.8"/>
<line x1="333.7" y1="149.2" x2="333.7" y2="151.4" stroke="#000" stroke-width="0.8"/>
<line x1="337.34" y1="149.2" x2="337.34" y2="151.4" stroke="#000" stroke-width="0.8"/>
<line x1="340.98" y1="149.2" x2="340.98" y2="151.4" stroke="#000" stroke-width="0.8"/>
<line x1="344.62" y1="149.2" x2="344.62" y2="151.4" stroke="#000" stroke-width="0.8"/>
<line x1="348.26" y1="149.2" x2="348.26" y2="151.4" stroke="#000" stroke-width="0.8"/>
<line x1="351.9" y1="149.2" x2="351.9" y2="151.4" stroke="#000" stroke-width="0.8"/>
<line x1="355.54" y1="149.2" x2="355.54" y2="151.4" stroke="#000" stroke-width="0.8"/>
<line x1="359.18" y1="149.2" x2="359.18" y2="151.4" stroke="#000" stroke-width="0.8"/>
<line x1="362.82" y1="149.2" x2="362.82" y2="151.4" stroke="#000" stroke-width="0.8"/>
<line x1="366.46" y1="149.2" x2="366.46" y2="151.4" stroke="#000" stroke-width="0.8"/>
<line x1="370.1" y1="149.2" x2="370.1" y2="151.4" stroke="#000" stroke-width="0.8"/>
<line x1="373.74" y1="149.2" x2="373.74" y2="151.4" stroke="#000" stroke-width="0.8"/>
<line x1="377.38" y1="149.2" x2="377.38" y2="151.4" stroke="#000" stroke-width="0.8"/>
<line x1="381.02" y1="149.2" x2="381.02" y2="151.4" stroke="#000" stroke-width="0.8"/>
<line x1="384.66" y1="149.2" x2="384.66" y2="151.4" stroke="#000" stroke-width="0.8"/>
<line x1="388.3" y1="149.2" x2="388.3" y2="151.4" stroke="#000" stroke-width="0.8"/>
<line x1="391.94" y1="149.2" x2="391.94" y2="151.4" stroke="#000" stroke-width="0.8"/>
<line x1="395.58" y1="149.2" x2="395.58" y2="151.4" stroke="#000" stroke-width="0.8"/>
<line x1="399.22" y1="149.2" x2="399.22" y2="151.4" stroke="#000" stroke-width="0.8"/>
<line x1="402.86" y1="149.2" x2="402.86" y2="151.4" stroke="#000" stroke-width="0.8"/>
<line x1="406.5" y1="149.2" x2="406.5" y2="151.4" stroke="#000" stroke-width="0.8"/>
<line x1="410.14" y1="149.2" x2="410.14" y2="151.4" stroke="#000" stroke-width="0.8"/>
<line x1="413.78" y1="149.2" x2="413.78" y2="151.4" stroke="#000" stroke-width="0.8"/>
<line x1="417.42" y1="149.2" x2="417.42" y2="151.4" stroke="#000" stroke-width="0.8"/>
<line x1="421.06" y1="149.2" x2="421.06" y2="151.4" stroke="#000" stroke-width="0.8"/>
<line x1="424.7" y1="149.2" x2="424.7" y2="151.4" stroke="#000" stroke-width="0.8"/>
<line x1="428.34" y1="149.2" x2="428.34" y2="151.4" stroke="#000" stroke-width="0.8"/>
<line x1="431.98" y1="149.2" x2="431.98" y2="151.4" stroke="#000" stroke-width="0.8"/>
<line x1="435.62" y1="149.2" x2="435.62" y2="151.4" stroke="#000" stroke-width="0.8"/>
<line x1="439.26" y1="149.2" x2="439.26" y2="151.4" stroke="#000" stroke-width="0.8"/>
<line x1="442.9" y1="149.2" x2="442.9" y2="151.4" stroke="#000" stroke-width="0.8"/>
<line x1="446.54" y1="149.2" x2="446.54" y2="151.4" stroke="#000" stroke-width="0.8"/>
<line x1="450.18" y1="149.2" x2="450.18" y2="151.4" stroke="#000" stroke-width="0.8"/>
<line x1="453.82" y1="149.2" x2="453.82" y2="151.4" stroke="#000" stroke-width="0.8"/>
<line x1="457.46" y1="149.2" x2="457.46" y2="151.4" stroke="#000" stroke-width="0.8"/>
<line x1="461.1" y1="149.2" x2="461.1" y2="151.4" stroke="#000" stroke-width="0.8"/>
<line x1="464.74" y1="149.2" x2="464.74" y2="151.4" stroke="#000" stroke-width="0.8"/>
<line x1="468.38" y1="149.2" x2="468.38" y2="151.4" stroke="#000" stroke-width="0.8"/>
<line x1="472.02" y1="149.2" x2="472.02" y2="151.4" stroke="#000" stroke-width="0.8"/>
<line x1="475.66" y1="149.2" x2="475.66" y2="151.4" stroke="#000" stroke-width="0.8"/>
<line x1="479.3" y1="149.2" x2="479.3" y2="151.4" stroke="#000" stroke-width="0.8"/>
<line x1="482.94" y1="149.2" x2="482.94" y2="151.4" stroke="#000" stroke-width="0.8"/>
<line x1="486.58" y1="149.2" x2="486.58" y2="151.4" stroke="#000" stroke-width="0.8"/>
<line x1="490.22" y1="149.2" x2="490.22" y2="151.4" stroke="#000" stroke-width="0.8"/>
<line x1="493.86" y1="149.2" x2="493.86" y2="151.4" stroke="#000" stroke-width="0.8"/>
<line x1="497.5" y1="149.2" x2="497.5" y2="151.4" stroke="#000" stroke-width="0.8"/>
<line x1="315.5" y1="149.2" x2="315.5" y2="152.2" stroke="#000" stroke-width="0.9"/>
<text x="315.5" y="161.8" font-size="7.8" text-anchor="middle" fill="#2b2b2b" font-weight="normal" stroke="#2b2b2b" stroke-width="0.05">0</text>
<line x1="333.7" y1="149.2" x2="333.7" y2="152.2" stroke="#000" stroke-width="0.9"/>
<text x="333.7" y="161.8" font-size="7.8" text-anchor="middle" fill="#2b2b2b" font-weight="normal" stroke="#2b2b2b" stroke-width="0.05">1</text>
<line x1="351.9" y1="149.2" x2="351.9" y2="152.2" stroke="#000" stroke-width="0.9"/>
<text x="351.9" y="161.8" font-size="7.8" text-anchor="middle" fill="#2b2b2b" font-weight="normal" stroke="#2b2b2b" stroke-width="0.05">2</text>
<line x1="370.1" y1="149.2" x2="370.1" y2="152.2" stroke="#000" stroke-width="0.9"/>
<text x="370.1" y="161.8" font-size="7.8" text-anchor="middle" fill="#2b2b2b" font-weight="normal" stroke="#2b2b2b" stroke-width="0.05">3</text>
<line x1="388.3" y1="149.2" x2="388.3" y2="152.2" stroke="#000" stroke-width="0.9"/>
<text x="388.3" y="161.8" font-size="7.8" text-anchor="middle" fill="#2b2b2b" font-weight="normal" stroke="#2b2b2b" stroke-width="0.05">4</text>
<line x1="406.5" y1="149.2" x2="406.5" y2="152.2" stroke="#000" stroke-width="0.9"/>
<text x="406.5" y="161.8" font-size="7.8" text-anchor="middle" fill="#2b2b2b" font-weight="normal" stroke="#2b2b2b" stroke-width="0.05">5</text>
<line x1="424.7" y1="149.2" x2="424.7" y2="152.2" stroke="#000" stroke-width="0.9"/>
<text x="424.7" y="161.8" font-size="7.8" text-anchor="middle" fill="#2b2b2b" font-weight="normal" stroke="#2b2b2b" stroke-width="0.05">6</text>
<line x1="442.9" y1="149.2" x2="442.9" y2="152.2" stroke="#000" stroke-width="0.9"/>
<text x="442.9" y="161.8" font-size="7.8" text-anchor="middle" fill="#2b2b2b" font-weight="normal" stroke="#2b2b2b" stroke-width="0.05">7</text>
<line x1="461.1" y1="149.2" x2="461.1" y2="152.2" stroke="#000" stroke-width="0.9"/>
<text x="461.1" y="161.8" font-size="7.8" text-anchor="middle" fill="#2b2b2b" font-weight="normal" stroke="#2b2b2b" stroke-width="0.05">8</text>
<line x1="479.3" y1="149.2" x2="479.3" y2="152.2" stroke="#000" stroke-width="0.9"/>
<text x="479.3" y="161.8" font-size="7.8" text-anchor="middle" fill="#2b2b2b" font-weight="normal" stroke="#2b2b2b" stroke-width="0.05">9</text>
<line x1="497.5" y1="149.2" x2="497.5" y2="152.2" stroke="#000" stroke-width="0.9"/>
<text x="497.5" y="161.8" font-size="7.8" text-anchor="middle" fill="#2b2b2b" font-weight="normal" stroke="#2b2b2b" stroke-width="0.05">10</text>
<text x="386.6" y="176.3" font-size="9" text-anchor="start" fill="#2b2b2b" font-weight="normal" textLength="33.3" lengthAdjust="spacingAndGlyphs" stroke="#2b2b2b" stroke-width="0.05">RPA, [nM]</text>
<text transform="translate(291.6,89) rotate(-90)" x="0" y="0" font-size="8.6" text-anchor="middle" fill="#2b2b2b" stroke="#2b2b2b" stroke-width="0.05" textLength="14.8" lengthAdjust="spacingAndGlyphs">FRET</text>
<line x1="444" y1="47.8" x2="457.2" y2="47.8" stroke="#c8102e" stroke-width="1.4"/>
<circle cx="450.8" cy="47.8" r="2.8" stroke="#c8102e" stroke-width="0.9" fill="none"/>
<text x="460" y="50.5" font-size="7.9" fill="#2b2b2b" stroke="#2b2b2b" stroke-width="0.05"><tspan textLength="32.5" lengthAdjust="spacingAndGlyphs">dT30 RPA</tspan><tspan font-size="5" dy="-2.8">WT</tspan></text>
<line x1="444" y1="60" x2="457.2" y2="60" stroke="#184a78" stroke-width="1.4"/>
<circle cx="450.8" cy="60" r="2.8" stroke="#184a78" stroke-width="0.9" fill="none"/>
<text x="460" y="62.7" font-size="7.9" fill="#2b2b2b" stroke="#2b2b2b" stroke-width="0.05"><tspan textLength="32.5" lengthAdjust="spacingAndGlyphs">dT30 RPA</tspan><tspan font-size="5" dy="-2.8">E240K</tspan></text>
<line x1="444" y1="72.2" x2="457.2" y2="72.2" stroke="#2bb53a" stroke-width="1.4"/>
<circle cx="450.8" cy="72.2" r="2.8" stroke="#2bb53a" stroke-width="0.9" fill="none"/>
<text x="460" y="74.9" font-size="7.9" fill="#2b2b2b" stroke="#2b2b2b" stroke-width="0.05"><tspan textLength="32.5" lengthAdjust="spacingAndGlyphs">dT30 RPA</tspan><tspan font-size="5" dy="-2.8">V227A</tspan></text>
<line x1="444" y1="84.4" x2="457.2" y2="84.4" stroke="#5d2d84" stroke-width="1.4"/>
<circle cx="450.8" cy="84.4" r="2.8" stroke="#5d2d84" stroke-width="0.9" fill="none"/>
<text x="460" y="87.1" font-size="7.9" fill="#2b2b2b" stroke="#2b2b2b" stroke-width="0.05"><tspan textLength="32.5" lengthAdjust="spacingAndGlyphs">dT30 RPA</tspan><tspan font-size="5" dy="-2.8">T270A</tspan></text>
<text x="6.2" y="253" font-size="11.4" text-anchor="start" fill="#000" font-weight="bold">C</text>
<line x1="45.5" y1="285" x2="236.6" y2="285" stroke="#606060" stroke-width="1.7"/>
<line x1="45.5" y1="365.8" x2="236.6" y2="365.8" stroke="#a0a0a0" stroke-width="1.5"/>
<path d="M45.5,287.75 L46.63,292.34 L47.76,296.66 L48.89,300.72 L50.02,304.55 L51.15,308.15 L52.28,311.54 L53.42,314.74 L54.55,317.74 L55.68,320.57 L56.81,323.24 L57.94,325.74 L59.07,328.11 L60.2,330.33 L61.33,332.42 L62.46,334.39 L63.59,336.25 L64.72,337.99 L65.85,339.63 L66.99,341.18 L68.12,342.64 L69.25,344.01 L70.38,345.3 L71.51,346.52 L72.64,347.66 L73.77,348.74 L74.9,349.75 L76.03,350.71 L77.16,351.6 L78.29,352.45 L79.42,353.25 L80.56,354 L81.69,354.7 L82.82,355.37 L83.95,355.99 L85.08,356.58 L86.21,357.14 L87.34,357.66 L88.47,358.15 L89.6,358.61 L90.73,359.05 L91.86,359.46 L92.99,359.84 L94.13,360.21 L95.26,360.55 L96.39,360.87 L97.52,361.17 L98.65,361.46 L99.78,361.73 L100.91,361.98 L102.04,362.22 L103.17,362.44 L104.3,362.65 L105.43,362.85 L106.56,363.04 L107.69,363.21 L108.83,363.38 L109.96,363.54 L111.09,363.68 L112.22,363.82 L113.35,363.95 L114.48,364.07 L115.61,364.19 L116.74,364.3 L117.87,364.4 L119,364.5 L120.13,364.59 L121.26,364.67 L122.4,364.75 L123.53,364.83 L124.66,364.9 L125.79,364.97 L126.92,365.03 L128.05,365.09 L129.18,365.14 L130.31,365.2 L131.44,365.25 L132.57,365.29 L133.7,365.34 L134.83,365.38 L135.97,365.42 L137.1,365.45 L138.23,365.49 L139.36,365.52 L140.49,365.55 L141.62,365.58 L142.75,365.61 L143.88,365.63 L145.01,365.66 L146.14,365.68 L147.27,365.7 L148.4,365.72 L149.54,365.74 L150.67,365.76 L151.8,365.77 L152.93,365.79 L154.06,365.8 L155.19,365.82 L156.32,365.83 L157.45,365.84 L158.58,365.86 L159.71,365.87 L160.84,365.88 L161.97,365.89 L163.11,365.9 L164.24,365.9 L165.37,365.91 L166.5,365.92 L167.63,365.93 L168.76,365.93 L169.89,365.94 L171.02,365.95 L172.15,365.95 L173.28,365.96 L174.41,365.96 L175.54,365.97 L176.67,365.97 L177.81,365.98 L178.94,365.98 L180.07,365.98 L181.2,365.99 L182.33,365.99 L183.46,365.99 L184.59,366 L185.72,366 L186.85,366 L187.98,366 L189.11,366.01 L190.24,366.01 L191.38,366.01 L192.51,366.01 L193.64,366.01 L194.77,366.02 L195.9,366.02 L197.03,366.02 L198.16,366.02 L199.29,366.02 L200.42,366.02 L201.55,366.02 L202.68,366.02 L203.81,366.03 L204.95,366.03 L206.08,366.03 L207.21,366.03 L208.34,366.03 L209.47,366.03 L210.6,366.03 L211.73,366.03 L212.86,366.03 L213.99,366.03 L215.12,366.03 L216.25,366.03 L217.38,366.03 L218.52,366.03 L219.65,366.04 L220.78,366.04 L221.91,366.04 L223.04,366.04 L224.17,366.04 L225.3,366.04" stroke="#184a78" stroke-width="1.5" fill="none" stroke-linejoin="round" stroke-linecap="round"/>
<path d="M45.5,287.75 L46.63,289.61 L47.76,291.43 L48.89,293.2 L50.02,294.93 L51.15,296.62 L52.28,298.26 L53.42,299.87 L54.55,301.44 L55.68,302.97 L56.81,304.46 L57.94,305.92 L59.07,307.34 L60.2,308.72 L61.33,310.08 L62.46,311.4 L63.59,312.68 L64.72,313.94 L65.85,315.16 L66.99,316.36 L68.12,317.53 L69.25,318.67 L70.38,319.78 L71.51,320.86 L72.64,321.92 L73.77,322.95 L74.9,323.96 L76.03,324.94 L77.16,325.9 L78.29,326.83 L79.42,327.75 L80.56,328.64 L81.69,329.51 L82.82,330.35 L83.95,331.18 L85.08,331.99 L86.21,332.77 L87.34,333.54 L88.47,334.29 L89.6,335.02 L90.73,335.74 L91.86,336.43 L92.99,337.11 L94.13,337.78 L95.26,338.42 L96.39,339.05 L97.52,339.67 L98.65,340.27 L99.78,340.86 L100.91,341.43 L102.04,341.99 L103.17,342.53 L104.3,343.06 L105.43,343.58 L106.56,344.09 L107.69,344.58 L108.83,345.06 L109.96,345.53 L111.09,345.99 L112.22,346.44 L113.35,346.87 L114.48,347.3 L115.61,347.71 L116.74,348.12 L117.87,348.51 L119,348.9 L120.13,349.28 L121.26,349.64 L122.4,350 L123.53,350.35 L124.66,350.69 L125.79,351.03 L126.92,351.35 L128.05,351.67 L129.18,351.98 L130.31,352.28 L131.44,352.57 L132.57,352.86 L133.7,353.14 L134.83,353.41 L135.97,353.68 L137.1,353.94 L138.23,354.2 L139.36,354.44 L140.49,354.69 L141.62,354.92 L142.75,355.15 L143.88,355.38 L145.01,355.6 L146.14,355.81 L147.27,356.02 L148.4,356.22 L149.54,356.42 L150.67,356.61 L151.8,356.8 L152.93,356.99 L154.06,357.17 L155.19,357.34 L156.32,357.52 L157.45,357.68 L158.58,357.85 L159.71,358 L160.84,358.16 L161.97,358.31 L163.11,358.46 L164.24,358.6 L165.37,358.74 L166.5,358.88 L167.63,359.02 L168.76,359.15 L169.89,359.27 L171.02,359.4 L172.15,359.52 L173.28,359.64 L174.41,359.75 L175.54,359.87 L176.67,359.98 L177.81,360.09 L178.94,360.19 L180.07,360.29 L181.2,360.39 L182.33,360.49 L183.46,360.58 L184.59,360.68 L185.72,360.77 L186.85,360.86 L187.98,360.94 L189.11,361.03 L190.24,361.11 L191.38,361.19 L192.51,361.27 L193.64,361.34 L194.77,361.42 L195.9,361.49 L197.03,361.56 L198.16,361.63 L199.29,361.7 L200.42,361.76 L201.55,361.83 L202.68,361.89 L203.81,361.95 L204.95,362.01 L206.08,362.07 L207.21,362.12 L208.34,362.18 L209.47,362.23 L210.6,362.29 L211.73,362.34 L212.86,362.39 L213.99,362.44 L215.12,362.48 L216.25,362.53 L217.38,362.58 L218.52,362.62 L219.65,362.66 L220.78,362.71 L221.91,362.75 L223.04,362.79 L224.17,362.83 L225.3,362.86" stroke="#5d2d84" stroke-width="1.5" fill="none" stroke-linejoin="round" stroke-linecap="round"/>
<path d="M45.5,287.75 L46.63,289.27 L47.76,290.76 L48.89,292.21 L50.02,293.64 L51.15,295.04 L52.28,296.41 L53.42,297.75 L54.55,299.07 L55.68,300.36 L56.81,301.62 L57.94,302.86 L59.07,304.07 L60.2,305.26 L61.33,306.42 L62.46,307.56 L63.59,308.68 L64.72,309.77 L65.85,310.84 L66.99,311.89 L68.12,312.92 L69.25,313.93 L70.38,314.92 L71.51,315.88 L72.64,316.83 L73.77,317.76 L74.9,318.67 L76.03,319.56 L77.16,320.43 L78.29,321.29 L79.42,322.13 L80.56,322.95 L81.69,323.75 L82.82,324.54 L83.95,325.31 L85.08,326.07 L86.21,326.81 L87.34,327.53 L88.47,328.24 L89.6,328.94 L90.73,329.62 L91.86,330.29 L92.99,330.95 L94.13,331.59 L95.26,332.22 L96.39,332.83 L97.52,333.44 L98.65,334.03 L99.78,334.61 L100.91,335.18 L102.04,335.73 L103.17,336.28 L104.3,336.81 L105.43,337.33 L106.56,337.85 L107.69,338.35 L108.83,338.84 L109.96,339.32 L111.09,339.79 L112.22,340.26 L113.35,340.71 L114.48,341.15 L115.61,341.59 L116.74,342.01 L117.87,342.43 L119,342.84 L120.13,343.24 L121.26,343.63 L122.4,344.02 L123.53,344.39 L124.66,344.76 L125.79,345.12 L126.92,345.48 L128.05,345.82 L129.18,346.16 L130.31,346.5 L131.44,346.82 L132.57,347.14 L133.7,347.46 L134.83,347.76 L135.97,348.06 L137.1,348.36 L138.23,348.65 L139.36,348.93 L140.49,349.21 L141.62,349.48 L142.75,349.74 L143.88,350 L145.01,350.26 L146.14,350.51 L147.27,350.75 L148.4,350.99 L149.54,351.23 L150.67,351.46 L151.8,351.68 L152.93,351.91 L154.06,352.12 L155.19,352.33 L156.32,352.54 L157.45,352.75 L158.58,352.95 L159.71,353.14 L160.84,353.33 L161.97,353.52 L163.11,353.7 L164.24,353.88 L165.37,354.06 L166.5,354.23 L167.63,354.4 L168.76,354.57 L169.89,354.73 L171.02,354.89 L172.15,355.05 L173.28,355.2 L174.41,355.35 L175.54,355.49 L176.67,355.64 L177.81,355.78 L178.94,355.92 L180.07,356.05 L181.2,356.18 L182.33,356.31 L183.46,356.44 L184.59,356.57 L185.72,356.69 L186.85,356.81 L187.98,356.92 L189.11,357.04 L190.24,357.15 L191.38,357.26 L192.51,357.37 L193.64,357.48 L194.77,357.58 L195.9,357.68 L197.03,357.78 L198.16,357.88 L199.29,357.97 L200.42,358.07 L201.55,358.16 L202.68,358.25 L203.81,358.33 L204.95,358.42 L206.08,358.5 L207.21,358.59 L208.34,358.67 L209.47,358.75 L210.6,358.83 L211.73,358.9 L212.86,358.98 L213.99,359.05 L215.12,359.12 L216.25,359.19 L217.38,359.26 L218.52,359.33 L219.65,359.39 L220.78,359.46 L221.91,359.52 L223.04,359.58 L224.17,359.64 L225.3,359.7" stroke="#c8102e" stroke-width="1.5" fill="none" stroke-linejoin="round" stroke-linecap="round"/>
<path d="M45.5,287.75 L46.63,289.87 L47.76,291.94 L48.89,293.94 L50.02,295.89 L51.15,297.78 L52.28,299.62 L53.42,301.4 L54.55,303.13 L55.68,304.82 L56.81,306.46 L57.94,308.05 L59.07,309.59 L60.2,311.09 L61.33,312.55 L62.46,313.96 L63.59,315.34 L64.72,316.68 L65.85,317.98 L66.99,319.24 L68.12,320.46 L69.25,321.65 L70.38,322.81 L71.51,323.93 L72.64,325.02 L73.77,326.08 L74.9,327.11 L76.03,328.12 L77.16,329.09 L78.29,330.03 L79.42,330.95 L80.56,331.84 L81.69,332.71 L82.82,333.55 L83.95,334.37 L85.08,335.16 L86.21,335.93 L87.34,336.68 L88.47,337.41 L89.6,338.12 L90.73,338.8 L91.86,339.47 L92.99,340.12 L94.13,340.75 L95.26,341.36 L96.39,341.96 L97.52,342.53 L98.65,343.09 L99.78,343.64 L100.91,344.17 L102.04,344.68 L103.17,345.18 L104.3,345.67 L105.43,346.14 L106.56,346.6 L107.69,347.04 L108.83,347.48 L109.96,347.9 L111.09,348.3 L112.22,348.7 L113.35,349.09 L114.48,349.46 L115.61,349.82 L116.74,350.18 L117.87,350.52 L119,350.85 L120.13,351.18 L121.26,351.49 L122.4,351.8 L123.53,352.09 L124.66,352.38 L125.79,352.66 L126.92,352.94 L128.05,353.2 L129.18,353.46 L130.31,353.71 L131.44,353.95 L132.57,354.18 L133.7,354.41 L134.83,354.64 L135.97,354.85 L137.1,355.06 L138.23,355.27 L139.36,355.46 L140.49,355.66 L141.62,355.84 L142.75,356.02 L143.88,356.2 L145.01,356.37 L146.14,356.54 L147.27,356.7 L148.4,356.86 L149.54,357.01 L150.67,357.16 L151.8,357.3 L152.93,357.44 L154.06,357.58 L155.19,357.71 L156.32,357.84 L157.45,357.96 L158.58,358.08 L159.71,358.2 L160.84,358.32 L161.97,358.43 L163.11,358.54 L164.24,358.64 L165.37,358.74 L166.5,358.84 L167.63,358.94 L168.76,359.03 L169.89,359.12 L171.02,359.21 L172.15,359.29 L173.28,359.38 L174.41,359.46 L175.54,359.54 L176.67,359.61 L177.81,359.69 L178.94,359.76 L180.07,359.83 L181.2,359.9 L182.33,359.96 L183.46,360.03 L184.59,360.09 L185.72,360.15 L186.85,360.21 L187.98,360.27 L189.11,360.32 L190.24,360.37 L191.38,360.43 L192.51,360.48 L193.64,360.53 L194.77,360.58 L195.9,360.62 L197.03,360.67 L198.16,360.71 L199.29,360.75 L200.42,360.8 L201.55,360.84 L202.68,360.88 L203.81,360.91 L204.95,360.95 L206.08,360.99 L207.21,361.02 L208.34,361.05 L209.47,361.09 L210.6,361.12 L211.73,361.15 L212.86,361.18 L213.99,361.21 L215.12,361.24 L216.25,361.27 L217.38,361.29 L218.52,361.32 L219.65,361.35 L220.78,361.37 L221.91,361.39 L223.04,361.42 L224.17,361.44 L225.3,361.46" stroke="#2bb53a" stroke-width="1.5" fill="none" stroke-linejoin="round" stroke-linecap="round"/>
<circle cx="45.5" cy="288.12" r="2.7" stroke="#184a78" stroke-width="0.85" fill="none"/>
<circle cx="49.99" cy="304.46" r="2.7" stroke="#184a78" stroke-width="0.85" fill="none"/>
<circle cx="54.49" cy="317.6" r="2.7" stroke="#184a78" stroke-width="0.85" fill="none"/>
<circle cx="58.98" cy="327.93" r="2.7" stroke="#184a78" stroke-width="0.85" fill="none"/>
<circle cx="63.48" cy="336.06" r="2.7" stroke="#184a78" stroke-width="0.85" fill="none"/>
<circle cx="67.97" cy="342.46" r="2.7" stroke="#184a78" stroke-width="0.85" fill="none"/>
<circle cx="72.47" cy="347.49" r="2.7" stroke="#184a78" stroke-width="0.85" fill="none"/>
<circle cx="76.97" cy="351.45" r="2.7" stroke="#184a78" stroke-width="0.85" fill="none"/>
<circle cx="81.46" cy="354.56" r="2.7" stroke="#184a78" stroke-width="0.85" fill="none"/>
<circle cx="90.45" cy="358.94" r="2.7" stroke="#184a78" stroke-width="0.85" fill="none"/>
<circle cx="99.44" cy="361.65" r="2.7" stroke="#184a78" stroke-width="0.85" fill="none"/>
<circle cx="117.42" cy="364.36" r="2.7" stroke="#184a78" stroke-width="0.85" fill="none"/>
<circle cx="135.4" cy="365.4" r="2.7" stroke="#184a78" stroke-width="0.85" fill="none"/>
<circle cx="180.35" cy="365.98" r="2.7" stroke="#184a78" stroke-width="0.85" fill="none"/>
<circle cx="225.3" cy="366.04" r="2.7" stroke="#184a78" stroke-width="0.85" fill="none"/>
<circle cx="45.5" cy="286.65" r="2.7" stroke="#5d2d84" stroke-width="0.85" fill="none"/>
<circle cx="49.99" cy="294.89" r="2.7" stroke="#5d2d84" stroke-width="0.85" fill="none"/>
<circle cx="54.49" cy="301.36" r="2.7" stroke="#5d2d84" stroke-width="0.85" fill="none"/>
<circle cx="58.98" cy="307.23" r="2.7" stroke="#5d2d84" stroke-width="0.85" fill="none"/>
<circle cx="63.48" cy="312.56" r="2.7" stroke="#5d2d84" stroke-width="0.85" fill="none"/>
<circle cx="67.97" cy="317.38" r="2.7" stroke="#5d2d84" stroke-width="0.85" fill="none"/>
<circle cx="72.47" cy="321.76" r="2.7" stroke="#5d2d84" stroke-width="0.85" fill="none"/>
<circle cx="76.97" cy="325.73" r="2.7" stroke="#5d2d84" stroke-width="0.85" fill="none"/>
<circle cx="81.46" cy="329.33" r="2.7" stroke="#5d2d84" stroke-width="0.85" fill="none"/>
<circle cx="90.45" cy="335.56" r="2.7" stroke="#5d2d84" stroke-width="0.85" fill="none"/>
<circle cx="99.44" cy="340.68" r="2.7" stroke="#5d2d84" stroke-width="0.85" fill="none"/>
<circle cx="117.42" cy="348.36" r="2.7" stroke="#5d2d84" stroke-width="0.85" fill="none"/>
<circle cx="135.4" cy="353.55" r="2.7" stroke="#5d2d84" stroke-width="0.85" fill="none"/>
<circle cx="180.35" cy="360.32" r="2.7" stroke="#5d2d84" stroke-width="0.85" fill="none"/>
<circle cx="225.3" cy="362.86" r="2.7" stroke="#5d2d84" stroke-width="0.85" fill="none"/>
<line x1="49.99" y1="292.92" x2="49.99" y2="303.32" stroke="#2bb53a" stroke-width="0.8"/>
<line x1="47.7" y1="292.92" x2="52.29" y2="292.92" stroke="#2bb53a" stroke-width="0.8"/>
<line x1="47.7" y1="303.32" x2="52.29" y2="303.32" stroke="#2bb53a" stroke-width="0.8"/>
<circle cx="49.99" cy="295.11" r="2.7" stroke="#2bb53a" stroke-width="0.85" fill="none"/>
<line x1="54.49" y1="300.13" x2="54.49" y2="310.53" stroke="#2bb53a" stroke-width="0.8"/>
<line x1="52.19" y1="300.13" x2="56.79" y2="300.13" stroke="#2bb53a" stroke-width="0.8"/>
<line x1="52.19" y1="310.53" x2="56.79" y2="310.53" stroke="#2bb53a" stroke-width="0.8"/>
<circle cx="54.49" cy="302.32" r="2.7" stroke="#2bb53a" stroke-width="0.85" fill="none"/>
<line x1="58.98" y1="306.56" x2="58.98" y2="316.96" stroke="#2bb53a" stroke-width="0.8"/>
<line x1="56.69" y1="306.56" x2="61.28" y2="306.56" stroke="#2bb53a" stroke-width="0.8"/>
<line x1="56.69" y1="316.96" x2="61.28" y2="316.96" stroke="#2bb53a" stroke-width="0.8"/>
<circle cx="58.98" cy="308.75" r="2.7" stroke="#2bb53a" stroke-width="0.85" fill="none"/>
<line x1="63.48" y1="312.28" x2="63.48" y2="322.69" stroke="#2bb53a" stroke-width="0.8"/>
<line x1="61.18" y1="312.28" x2="65.78" y2="312.28" stroke="#2bb53a" stroke-width="0.8"/>
<line x1="61.18" y1="322.69" x2="65.78" y2="322.69" stroke="#2bb53a" stroke-width="0.8"/>
<circle cx="63.48" cy="314.47" r="2.7" stroke="#2bb53a" stroke-width="0.85" fill="none"/>
<line x1="67.97" y1="317.39" x2="67.97" y2="327.79" stroke="#2bb53a" stroke-width="0.8"/>
<line x1="65.67" y1="317.39" x2="70.27" y2="317.39" stroke="#2bb53a" stroke-width="0.8"/>
<line x1="65.67" y1="327.79" x2="70.27" y2="327.79" stroke="#2bb53a" stroke-width="0.8"/>
<circle cx="67.97" cy="319.58" r="2.7" stroke="#2bb53a" stroke-width="0.85" fill="none"/>
<line x1="72.47" y1="321.94" x2="72.47" y2="332.35" stroke="#2bb53a" stroke-width="0.8"/>
<line x1="70.17" y1="321.94" x2="74.77" y2="321.94" stroke="#2bb53a" stroke-width="0.8"/>
<line x1="70.17" y1="332.35" x2="74.77" y2="332.35" stroke="#2bb53a" stroke-width="0.8"/>
<circle cx="72.47" cy="324.13" r="2.7" stroke="#2bb53a" stroke-width="0.85" fill="none"/>
<line x1="76.97" y1="326" x2="76.97" y2="336.4" stroke="#2bb53a" stroke-width="0.8"/>
<line x1="74.67" y1="326" x2="79.27" y2="326" stroke="#2bb53a" stroke-width="0.8"/>
<line x1="74.67" y1="336.4" x2="79.27" y2="336.4" stroke="#2bb53a" stroke-width="0.8"/>
<circle cx="76.97" cy="328.19" r="2.7" stroke="#2bb53a" stroke-width="0.85" fill="none"/>
<line x1="81.46" y1="329.62" x2="81.46" y2="340.02" stroke="#2bb53a" stroke-width="0.8"/>
<line x1="79.16" y1="329.62" x2="83.76" y2="329.62" stroke="#2bb53a" stroke-width="0.8"/>
<line x1="79.16" y1="340.02" x2="83.76" y2="340.02" stroke="#2bb53a" stroke-width="0.8"/>
<circle cx="81.46" cy="331.81" r="2.7" stroke="#2bb53a" stroke-width="0.85" fill="none"/>
<line x1="90.45" y1="335.71" x2="90.45" y2="346.12" stroke="#2bb53a" stroke-width="0.8"/>
<line x1="88.15" y1="335.71" x2="92.75" y2="335.71" stroke="#2bb53a" stroke-width="0.8"/>
<line x1="88.15" y1="346.12" x2="92.75" y2="346.12" stroke="#2bb53a" stroke-width="0.8"/>
<circle cx="90.45" cy="337.9" r="2.7" stroke="#2bb53a" stroke-width="0.85" fill="none"/>
<line x1="99.44" y1="340.56" x2="99.44" y2="350.96" stroke="#2bb53a" stroke-width="0.8"/>
<line x1="97.14" y1="340.56" x2="101.74" y2="340.56" stroke="#2bb53a" stroke-width="0.8"/>
<line x1="97.14" y1="350.96" x2="101.74" y2="350.96" stroke="#2bb53a" stroke-width="0.8"/>
<circle cx="99.44" cy="342.75" r="2.7" stroke="#2bb53a" stroke-width="0.85" fill="none"/>
<line x1="117.42" y1="347.46" x2="117.42" y2="357.87" stroke="#2bb53a" stroke-width="0.8"/>
<line x1="115.12" y1="347.46" x2="119.72" y2="347.46" stroke="#2bb53a" stroke-width="0.8"/>
<line x1="115.12" y1="357.87" x2="119.72" y2="357.87" stroke="#2bb53a" stroke-width="0.8"/>
<circle cx="117.42" cy="349.65" r="2.7" stroke="#2bb53a" stroke-width="0.85" fill="none"/>
<line x1="135.4" y1="351.82" x2="135.4" y2="362.23" stroke="#2bb53a" stroke-width="0.8"/>
<line x1="133.1" y1="351.82" x2="137.7" y2="351.82" stroke="#2bb53a" stroke-width="0.8"/>
<line x1="133.1" y1="362.23" x2="137.7" y2="362.23" stroke="#2bb53a" stroke-width="0.8"/>
<circle cx="135.4" cy="354.01" r="2.7" stroke="#2bb53a" stroke-width="0.85" fill="none"/>
<line x1="180.35" y1="356.93" x2="180.35" y2="364.59" stroke="#2bb53a" stroke-width="0.8"/>
<line x1="178.05" y1="356.93" x2="182.65" y2="356.93" stroke="#2bb53a" stroke-width="0.8"/>
<line x1="178.05" y1="364.59" x2="182.65" y2="364.59" stroke="#2bb53a" stroke-width="0.8"/>
<circle cx="180.35" cy="359.12" r="2.7" stroke="#2bb53a" stroke-width="0.85" fill="none"/>
<line x1="225.3" y1="358.54" x2="225.3" y2="366.21" stroke="#2bb53a" stroke-width="0.8"/>
<line x1="223" y1="358.54" x2="227.6" y2="358.54" stroke="#2bb53a" stroke-width="0.8"/>
<line x1="223" y1="366.21" x2="227.6" y2="366.21" stroke="#2bb53a" stroke-width="0.8"/>
<circle cx="225.3" cy="360.73" r="2.7" stroke="#2bb53a" stroke-width="0.85" fill="none"/>
<circle cx="45.5" cy="287.2" r="2.7" stroke="#c8102e" stroke-width="0.85" fill="none"/>
<line x1="49.99" y1="286.67" x2="49.99" y2="295.8" stroke="#c8102e" stroke-width="0.8"/>
<line x1="47.7" y1="286.67" x2="52.29" y2="286.67" stroke="#c8102e" stroke-width="0.8"/>
<line x1="47.7" y1="295.8" x2="52.29" y2="295.8" stroke="#c8102e" stroke-width="0.8"/>
<circle cx="49.99" cy="295.8" r="2.7" stroke="#c8102e" stroke-width="0.85" fill="none"/>
<line x1="54.49" y1="292.07" x2="54.49" y2="301.19" stroke="#c8102e" stroke-width="0.8"/>
<line x1="52.19" y1="292.07" x2="56.79" y2="292.07" stroke="#c8102e" stroke-width="0.8"/>
<line x1="52.19" y1="301.19" x2="56.79" y2="301.19" stroke="#c8102e" stroke-width="0.8"/>
<circle cx="54.49" cy="301.19" r="2.7" stroke="#c8102e" stroke-width="0.85" fill="none"/>
<line x1="58.98" y1="297.04" x2="58.98" y2="306.17" stroke="#c8102e" stroke-width="0.8"/>
<line x1="56.69" y1="297.04" x2="61.28" y2="297.04" stroke="#c8102e" stroke-width="0.8"/>
<line x1="56.69" y1="306.17" x2="61.28" y2="306.17" stroke="#c8102e" stroke-width="0.8"/>
<circle cx="58.98" cy="306.17" r="2.7" stroke="#c8102e" stroke-width="0.85" fill="none"/>
<line x1="63.48" y1="301.63" x2="63.48" y2="310.76" stroke="#c8102e" stroke-width="0.8"/>
<line x1="61.18" y1="301.63" x2="65.78" y2="301.63" stroke="#c8102e" stroke-width="0.8"/>
<line x1="61.18" y1="310.76" x2="65.78" y2="310.76" stroke="#c8102e" stroke-width="0.8"/>
<circle cx="63.48" cy="310.76" r="2.7" stroke="#c8102e" stroke-width="0.85" fill="none"/>
<line x1="67.97" y1="305.86" x2="67.97" y2="314.98" stroke="#c8102e" stroke-width="0.8"/>
<line x1="65.67" y1="305.86" x2="70.27" y2="305.86" stroke="#c8102e" stroke-width="0.8"/>
<line x1="65.67" y1="314.98" x2="70.27" y2="314.98" stroke="#c8102e" stroke-width="0.8"/>
<circle cx="67.97" cy="314.98" r="2.7" stroke="#c8102e" stroke-width="0.85" fill="none"/>
<line x1="72.47" y1="309.75" x2="72.47" y2="318.88" stroke="#c8102e" stroke-width="0.8"/>
<line x1="70.17" y1="309.75" x2="74.77" y2="309.75" stroke="#c8102e" stroke-width="0.8"/>
<line x1="70.17" y1="318.88" x2="74.77" y2="318.88" stroke="#c8102e" stroke-width="0.8"/>
<circle cx="72.47" cy="318.88" r="2.7" stroke="#c8102e" stroke-width="0.85" fill="none"/>
<line x1="76.97" y1="313.35" x2="76.97" y2="322.47" stroke="#c8102e" stroke-width="0.8"/>
<line x1="74.67" y1="313.35" x2="79.27" y2="313.35" stroke="#c8102e" stroke-width="0.8"/>
<line x1="74.67" y1="322.47" x2="79.27" y2="322.47" stroke="#c8102e" stroke-width="0.8"/>
<circle cx="76.97" cy="322.47" r="2.7" stroke="#c8102e" stroke-width="0.85" fill="none"/>
<line x1="81.46" y1="316.66" x2="81.46" y2="325.78" stroke="#c8102e" stroke-width="0.8"/>
<line x1="79.16" y1="316.66" x2="83.76" y2="316.66" stroke="#c8102e" stroke-width="0.8"/>
<line x1="79.16" y1="325.78" x2="83.76" y2="325.78" stroke="#c8102e" stroke-width="0.8"/>
<circle cx="81.46" cy="325.78" r="2.7" stroke="#c8102e" stroke-width="0.85" fill="none"/>
<line x1="90.45" y1="322.52" x2="90.45" y2="331.64" stroke="#c8102e" stroke-width="0.8"/>
<line x1="88.15" y1="322.52" x2="92.75" y2="322.52" stroke="#c8102e" stroke-width="0.8"/>
<line x1="88.15" y1="331.64" x2="92.75" y2="331.64" stroke="#c8102e" stroke-width="0.8"/>
<circle cx="90.45" cy="331.64" r="2.7" stroke="#c8102e" stroke-width="0.85" fill="none"/>
<line x1="99.44" y1="327.5" x2="99.44" y2="336.63" stroke="#c8102e" stroke-width="0.8"/>
<line x1="97.14" y1="327.5" x2="101.74" y2="327.5" stroke="#c8102e" stroke-width="0.8"/>
<line x1="97.14" y1="336.63" x2="101.74" y2="336.63" stroke="#c8102e" stroke-width="0.8"/>
<circle cx="99.44" cy="336.63" r="2.7" stroke="#c8102e" stroke-width="0.85" fill="none"/>
<line x1="117.42" y1="335.33" x2="117.42" y2="344.45" stroke="#c8102e" stroke-width="0.8"/>
<line x1="115.12" y1="335.33" x2="119.72" y2="335.33" stroke="#c8102e" stroke-width="0.8"/>
<line x1="115.12" y1="344.45" x2="119.72" y2="344.45" stroke="#c8102e" stroke-width="0.8"/>
<circle cx="117.42" cy="344.45" r="2.7" stroke="#c8102e" stroke-width="0.85" fill="none"/>
<line x1="135.4" y1="340.98" x2="135.4" y2="350.1" stroke="#c8102e" stroke-width="0.8"/>
<line x1="133.1" y1="340.98" x2="137.7" y2="340.98" stroke="#c8102e" stroke-width="0.8"/>
<line x1="133.1" y1="350.1" x2="137.7" y2="350.1" stroke="#c8102e" stroke-width="0.8"/>
<circle cx="135.4" cy="350.1" r="2.7" stroke="#c8102e" stroke-width="0.85" fill="none"/>
<line x1="180.35" y1="350.61" x2="180.35" y2="358.28" stroke="#c8102e" stroke-width="0.8"/>
<line x1="178.05" y1="350.61" x2="182.65" y2="350.61" stroke="#c8102e" stroke-width="0.8"/>
<line x1="178.05" y1="358.28" x2="182.65" y2="358.28" stroke="#c8102e" stroke-width="0.8"/>
<circle cx="180.35" cy="358.28" r="2.7" stroke="#c8102e" stroke-width="0.85" fill="none"/>
<line x1="225.3" y1="354.23" x2="225.3" y2="361.89" stroke="#c8102e" stroke-width="0.8"/>
<line x1="223" y1="354.23" x2="227.6" y2="354.23" stroke="#c8102e" stroke-width="0.8"/>
<line x1="223" y1="361.89" x2="227.6" y2="361.89" stroke="#c8102e" stroke-width="0.8"/>
<circle cx="225.3" cy="361.89" r="2.7" stroke="#c8102e" stroke-width="0.85" fill="none"/>
<circle cx="45.5" cy="285.56" r="2.7" stroke="#2bb53a" stroke-width="0.85" fill="none"/>
<line x1="45.5" y1="256.4" x2="45.5" y2="381.2" stroke="#000" stroke-width="1.1"/>
<line x1="42.9" y1="379" x2="45.5" y2="379" stroke="#000" stroke-width="0.8"/>
<line x1="42.9" y1="371.7" x2="45.5" y2="371.7" stroke="#000" stroke-width="0.8"/>
<line x1="42.9" y1="364.4" x2="45.5" y2="364.4" stroke="#000" stroke-width="0.8"/>
<line x1="42.9" y1="357.1" x2="45.5" y2="357.1" stroke="#000" stroke-width="0.8"/>
<line x1="42.9" y1="349.8" x2="45.5" y2="349.8" stroke="#000" stroke-width="0.8"/>
<line x1="42.9" y1="342.5" x2="45.5" y2="342.5" stroke="#000" stroke-width="0.8"/>
<line x1="42.9" y1="335.2" x2="45.5" y2="335.2" stroke="#000" stroke-width="0.8"/>
<line x1="42.9" y1="327.9" x2="45.5" y2="327.9" stroke="#000" stroke-width="0.8"/>
<line x1="42.9" y1="320.6" x2="45.5" y2="320.6" stroke="#000" stroke-width="0.8"/>
<line x1="42.9" y1="313.3" x2="45.5" y2="313.3" stroke="#000" stroke-width="0.8"/>
<line x1="42.9" y1="306" x2="45.5" y2="306" stroke="#000" stroke-width="0.8"/>
<line x1="42.9" y1="298.7" x2="45.5" y2="298.7" stroke="#000" stroke-width="0.8"/>
<line x1="42.9" y1="291.4" x2="45.5" y2="291.4" stroke="#000" stroke-width="0.8"/>
<line x1="42.9" y1="284.1" x2="45.5" y2="284.1" stroke="#000" stroke-width="0.8"/>
<line x1="42.9" y1="276.8" x2="45.5" y2="276.8" stroke="#000" stroke-width="0.8"/>
<line x1="42.9" y1="269.5" x2="45.5" y2="269.5" stroke="#000" stroke-width="0.8"/>
<line x1="42.9" y1="262.2" x2="45.5" y2="262.2" stroke="#000" stroke-width="0.8"/>
<line x1="41.7" y1="371.7" x2="45.5" y2="371.7" stroke="#000" stroke-width="0.9"/>
<text x="40.2" y="374.8" font-size="8.4" text-anchor="end" fill="#2b2b2b" font-weight="normal" stroke="#2b2b2b" stroke-width="0.05">0.4</text>
<line x1="41.7" y1="335.2" x2="45.5" y2="335.2" stroke="#000" stroke-width="0.9"/>
<text x="40.2" y="338.3" font-size="8.4" text-anchor="end" fill="#2b2b2b" font-weight="normal" stroke="#2b2b2b" stroke-width="0.05">0.6</text>
<line x1="41.7" y1="298.7" x2="45.5" y2="298.7" stroke="#000" stroke-width="0.9"/>
<text x="40.2" y="301.8" font-size="8.4" text-anchor="end" fill="#2b2b2b" font-weight="normal" stroke="#2b2b2b" stroke-width="0.05">0.8</text>
<line x1="41.7" y1="262.2" x2="45.5" y2="262.2" stroke="#000" stroke-width="0.9"/>
<text x="40.2" y="265.3" font-size="8.4" text-anchor="end" fill="#2b2b2b" font-weight="normal" stroke="#2b2b2b" stroke-width="0.05">1.0</text>
<line x1="45.5" y1="381.2" x2="236.6" y2="381.2" stroke="#000" stroke-width="1.1"/>
<line x1="45.5" y1="381.2" x2="45.5" y2="383.4" stroke="#000" stroke-width="0.8"/>
<line x1="49.1" y1="381.2" x2="49.1" y2="383.4" stroke="#000" stroke-width="0.8"/>
<line x1="52.69" y1="381.2" x2="52.69" y2="383.4" stroke="#000" stroke-width="0.8"/>
<line x1="56.29" y1="381.2" x2="56.29" y2="383.4" stroke="#000" stroke-width="0.8"/>
<line x1="59.88" y1="381.2" x2="59.88" y2="383.4" stroke="#000" stroke-width="0.8"/>
<line x1="63.48" y1="381.2" x2="63.48" y2="383.4" stroke="#000" stroke-width="0.8"/>
<line x1="67.08" y1="381.2" x2="67.08" y2="383.4" stroke="#000" stroke-width="0.8"/>
<line x1="70.67" y1="381.2" x2="70.67" y2="383.4" stroke="#000" stroke-width="0.8"/>
<line x1="74.27" y1="381.2" x2="74.27" y2="383.4" stroke="#000" stroke-width="0.8"/>
<line x1="77.86" y1="381.2" x2="77.86" y2="383.4" stroke="#000" stroke-width="0.8"/>
<line x1="81.46" y1="381.2" x2="81.46" y2="383.4" stroke="#000" stroke-width="0.8"/>
<line x1="85.06" y1="381.2" x2="85.06" y2="383.4" stroke="#000" stroke-width="0.8"/>
<line x1="88.65" y1="381.2" x2="88.65" y2="383.4" stroke="#000" stroke-width="0.8"/>
<line x1="92.25" y1="381.2" x2="92.25" y2="383.4" stroke="#000" stroke-width="0.8"/>
<line x1="95.84" y1="381.2" x2="95.84" y2="383.4" stroke="#000" stroke-width="0.8"/>
<line x1="99.44" y1="381.2" x2="99.44" y2="383.4" stroke="#000" stroke-width="0.8"/>
<line x1="103.04" y1="381.2" x2="103.04" y2="383.4" stroke="#000" stroke-width="0.8"/>
<line x1="106.63" y1="381.2" x2="106.63" y2="383.4" stroke="#000" stroke-width="0.8"/>
<line x1="110.23" y1="381.2" x2="110.23" y2="383.4" stroke="#000" stroke-width="0.8"/>
<line x1="113.82" y1="381.2" x2="113.82" y2="383.4" stroke="#000" stroke-width="0.8"/>
<line x1="117.42" y1="381.2" x2="117.42" y2="383.4" stroke="#000" stroke-width="0.8"/>
<line x1="121.02" y1="381.2" x2="121.02" y2="383.4" stroke="#000" stroke-width="0.8"/>
<line x1="124.61" y1="381.2" x2="124.61" y2="383.4" stroke="#000" stroke-width="0.8"/>
<line x1="128.21" y1="381.2" x2="128.21" y2="383.4" stroke="#000" stroke-width="0.8"/>
<line x1="131.8" y1="381.2" x2="131.8" y2="383.4" stroke="#000" stroke-width="0.8"/>
<line x1="135.4" y1="381.2" x2="135.4" y2="383.4" stroke="#000" stroke-width="0.8"/>
<line x1="139" y1="381.2" x2="139" y2="383.4" stroke="#000" stroke-width="0.8"/>
<line x1="142.59" y1="381.2" x2="142.59" y2="383.4" stroke="#000" stroke-width="0.8"/>
<line x1="146.19" y1="381.2" x2="146.19" y2="383.4" stroke="#000" stroke-width="0.8"/>
<line x1="149.78" y1="381.2" x2="149.78" y2="383.4" stroke="#000" stroke-width="0.8"/>
<line x1="153.38" y1="381.2" x2="153.38" y2="383.4" stroke="#000" stroke-width="0.8"/>
<line x1="156.98" y1="381.2" x2="156.98" y2="383.4" stroke="#000" stroke-width="0.8"/>
<line x1="160.57" y1="381.2" x2="160.57" y2="383.4" stroke="#000" stroke-width="0.8"/>
<line x1="164.17" y1="381.2" x2="164.17" y2="383.4" stroke="#000" stroke-width="0.8"/>
<line x1="167.76" y1="381.2" x2="167.76" y2="383.4" stroke="#000" stroke-width="0.8"/>
<line x1="171.36" y1="381.2" x2="171.36" y2="383.4" stroke="#000" stroke-width="0.8"/>
<line x1="174.96" y1="381.2" x2="174.96" y2="383.4" stroke="#000" stroke-width="0.8"/>
<line x1="178.55" y1="381.2" x2="178.55" y2="383.4" stroke="#000" stroke-width="0.8"/>
<line x1="182.15" y1="381.2" x2="182.15" y2="383.4" stroke="#000" stroke-width="0.8"/>
<line x1="185.74" y1="381.2" x2="185.74" y2="383.4" stroke="#000" stroke-width="0.8"/>
<line x1="189.34" y1="381.2" x2="189.34" y2="383.4" stroke="#000" stroke-width="0.8"/>
<line x1="192.94" y1="381.2" x2="192.94" y2="383.4" stroke="#000" stroke-width="0.8"/>
<line x1="196.53" y1="381.2" x2="196.53" y2="383.4" stroke="#000" stroke-width="0.8"/>
<line x1="200.13" y1="381.2" x2="200.13" y2="383.4" stroke="#000" stroke-width="0.8"/>
<line x1="203.72" y1="381.2" x2="203.72" y2="383.4" stroke="#000" stroke-width="0.8"/>
<line x1="207.32" y1="381.2" x2="207.32" y2="383.4" stroke="#000" stroke-width="0.8"/>
<line x1="210.92" y1="381.2" x2="210.92" y2="383.4" stroke="#000" stroke-width="0.8"/>
<line x1="214.51" y1="381.2" x2="214.51" y2="383.4" stroke="#000" stroke-width="0.8"/>
<line x1="218.11" y1="381.2" x2="218.11" y2="383.4" stroke="#000" stroke-width="0.8"/>
<line x1="221.7" y1="381.2" x2="221.7" y2="383.4" stroke="#000" stroke-width="0.8"/>
<line x1="225.3" y1="381.2" x2="225.3" y2="383.4" stroke="#000" stroke-width="0.8"/>
<line x1="45.5" y1="381.2" x2="45.5" y2="384.2" stroke="#000" stroke-width="0.9"/>
<text x="45.5" y="393.3" font-size="7.8" text-anchor="middle" fill="#2b2b2b" font-weight="normal" stroke="#2b2b2b" stroke-width="0.05">0</text>
<line x1="63.48" y1="381.2" x2="63.48" y2="384.2" stroke="#000" stroke-width="0.9"/>
<text x="63.48" y="393.3" font-size="7.8" text-anchor="middle" fill="#2b2b2b" font-weight="normal" stroke="#2b2b2b" stroke-width="0.05">1</text>
<line x1="81.46" y1="381.2" x2="81.46" y2="384.2" stroke="#000" stroke-width="0.9"/>
<text x="81.46" y="393.3" font-size="7.8" text-anchor="middle" fill="#2b2b2b" font-weight="normal" stroke="#2b2b2b" stroke-width="0.05">2</text>
<line x1="99.44" y1="381.2" x2="99.44" y2="384.2" stroke="#000" stroke-width="0.9"/>
<text x="99.44" y="393.3" font-size="7.8" text-anchor="middle" fill="#2b2b2b" font-weight="normal" stroke="#2b2b2b" stroke-width="0.05">3</text>
<line x1="117.42" y1="381.2" x2="117.42" y2="384.2" stroke="#000" stroke-width="0.9"/>
<text x="117.42" y="393.3" font-size="7.8" text-anchor="middle" fill="#2b2b2b" font-weight="normal" stroke="#2b2b2b" stroke-width="0.05">4</text>
<line x1="135.4" y1="381.2" x2="135.4" y2="384.2" stroke="#000" stroke-width="0.9"/>
<text x="135.4" y="393.3" font-size="7.8" text-anchor="middle" fill="#2b2b2b" font-weight="normal" stroke="#2b2b2b" stroke-width="0.05">5</text>
<line x1="153.38" y1="381.2" x2="153.38" y2="384.2" stroke="#000" stroke-width="0.9"/>
<text x="153.38" y="393.3" font-size="7.8" text-anchor="middle" fill="#2b2b2b" font-weight="normal" stroke="#2b2b2b" stroke-width="0.05">6</text>
<line x1="171.36" y1="381.2" x2="171.36" y2="384.2" stroke="#000" stroke-width="0.9"/>
<text x="171.36" y="393.3" font-size="7.8" text-anchor="middle" fill="#2b2b2b" font-weight="normal" stroke="#2b2b2b" stroke-width="0.05">7</text>
<line x1="189.34" y1="381.2" x2="189.34" y2="384.2" stroke="#000" stroke-width="0.9"/>
<text x="189.34" y="393.3" font-size="7.8" text-anchor="middle" fill="#2b2b2b" font-weight="normal" stroke="#2b2b2b" stroke-width="0.05">8</text>
<line x1="207.32" y1="381.2" x2="207.32" y2="384.2" stroke="#000" stroke-width="0.9"/>
<text x="207.32" y="393.3" font-size="7.8" text-anchor="middle" fill="#2b2b2b" font-weight="normal" stroke="#2b2b2b" stroke-width="0.05">9</text>
<line x1="225.3" y1="381.2" x2="225.3" y2="384.2" stroke="#000" stroke-width="0.9"/>
<text x="225.3" y="393.3" font-size="7.8" text-anchor="middle" fill="#2b2b2b" font-weight="normal" stroke="#2b2b2b" stroke-width="0.05">10</text>
<text x="118.8" y="407" font-size="9" text-anchor="start" fill="#2b2b2b" font-weight="normal" textLength="33" lengthAdjust="spacingAndGlyphs" stroke="#2b2b2b" stroke-width="0.05">RPA, [nM]</text>
<text transform="translate(21.6,319.7) rotate(-90)" x="0" y="0" font-size="8.6" text-anchor="middle" fill="#2b2b2b" stroke="#2b2b2b" stroke-width="0.05" textLength="14.7" lengthAdjust="spacingAndGlyphs">FRET</text>
<line x1="175.6" y1="296.3" x2="188" y2="296.3" stroke="#c8102e" stroke-width="1.4"/>
<circle cx="181.7" cy="296.3" r="2.8" stroke="#c8102e" stroke-width="0.9" fill="none"/>
<text x="190.8" y="299" font-size="7.9" fill="#2b2b2b" stroke="#2b2b2b" stroke-width="0.05"><tspan textLength="35.3" lengthAdjust="spacingAndGlyphs">dT15; RPA</tspan><tspan font-size="5" dy="-2.8">WT</tspan></text>
<line x1="175.6" y1="308.1" x2="188" y2="308.1" stroke="#184a78" stroke-width="1.4"/>
<circle cx="181.7" cy="308.1" r="2.8" stroke="#184a78" stroke-width="0.9" fill="none"/>
<text x="190.8" y="310.8" font-size="7.9" fill="#2b2b2b" stroke="#2b2b2b" stroke-width="0.05"><tspan textLength="35.3" lengthAdjust="spacingAndGlyphs">dT15; RPA</tspan><tspan font-size="5" dy="-2.8">E240K</tspan></text>
<line x1="175.6" y1="319.9" x2="188" y2="319.9" stroke="#2bb53a" stroke-width="1.4"/>
<circle cx="181.7" cy="319.9" r="2.8" stroke="#2bb53a" stroke-width="0.9" fill="none"/>
<text x="190.8" y="322.6" font-size="7.9" fill="#2b2b2b" stroke="#2b2b2b" stroke-width="0.05"><tspan textLength="35.3" lengthAdjust="spacingAndGlyphs">dT15; RPA</tspan><tspan font-size="5" dy="-2.8">V227A</tspan></text>
<line x1="175.6" y1="331.7" x2="188" y2="331.7" stroke="#5d2d84" stroke-width="1.4"/>
<circle cx="181.7" cy="331.7" r="2.8" stroke="#5d2d84" stroke-width="0.9" fill="none"/>
<text x="190.8" y="334.4" font-size="7.9" fill="#2b2b2b" stroke="#2b2b2b" stroke-width="0.05"><tspan textLength="35.3" lengthAdjust="spacingAndGlyphs">dT15; RPA</tspan><tspan font-size="5" dy="-2.8">T270A</tspan></text>
<text x="276.2" y="252.8" font-size="11.4" text-anchor="start" fill="#000" font-weight="bold">D</text>
<line x1="315.5" y1="274.1" x2="508.5" y2="274.1" stroke="#333" stroke-width="1.2"/>
<line x1="315.5" y1="367.8" x2="508.5" y2="367.8" stroke="#666" stroke-width="1.1"/>
<circle cx="315.5" cy="274.64" r="2.7" stroke="#5d2d84" stroke-width="0.85" fill="none"/>
<circle cx="320.05" cy="283.24" r="2.7" stroke="#5d2d84" stroke-width="0.85" fill="none"/>
<circle cx="324.6" cy="295.22" r="2.7" stroke="#5d2d84" stroke-width="0.85" fill="none"/>
<circle cx="329.15" cy="305.71" r="2.7" stroke="#5d2d84" stroke-width="0.85" fill="none"/>
<circle cx="333.7" cy="314.9" r="2.7" stroke="#5d2d84" stroke-width="0.85" fill="none"/>
<circle cx="338.25" cy="322.96" r="2.7" stroke="#5d2d84" stroke-width="0.85" fill="none"/>
<circle cx="342.8" cy="330.04" r="2.7" stroke="#5d2d84" stroke-width="0.85" fill="none"/>
<circle cx="347.35" cy="335.72" r="2.7" stroke="#5d2d84" stroke-width="0.85" fill="none"/>
<circle cx="351.9" cy="340.66" r="2.7" stroke="#5d2d84" stroke-width="0.85" fill="none"/>
<circle cx="361" cy="348.15" r="2.7" stroke="#5d2d84" stroke-width="0.85" fill="none"/>
<circle cx="370.1" cy="353.69" r="2.7" stroke="#5d2d84" stroke-width="0.85" fill="none"/>
<circle cx="388.3" cy="361.2" r="2.7" stroke="#5d2d84" stroke-width="0.85" fill="none"/>
<circle cx="406.5" cy="365.8" r="2.7" stroke="#5d2d84" stroke-width="0.85" fill="none"/>
<circle cx="452" cy="366.56" r="2.7" stroke="#5d2d84" stroke-width="0.85" fill="none"/>
<circle cx="497.5" cy="366.56" r="2.7" stroke="#5d2d84" stroke-width="0.85" fill="none"/>
<path d="M315.5,271.15 L317.03,275.78 L318.56,280.2 L320.09,284.42 L321.62,288.44 L323.15,292.28 L324.68,295.94 L326.21,299.43 L327.74,302.77 L329.26,305.95 L330.79,308.98 L332.32,311.87 L333.85,314.63 L335.38,317.27 L336.91,319.78 L338.44,322.18 L339.97,324.47 L341.5,326.65 L343.03,328.73 L344.56,330.71 L346.09,332.61 L347.62,334.42 L349.15,336.14 L350.68,337.79 L352.21,339.36 L353.74,340.85 L355.26,342.28 L356.79,343.65 L358.32,344.95 L359.85,346.19 L361.38,347.37 L362.91,348.5 L364.44,349.58 L365.97,350.6 L367.5,351.58 L369.03,352.52 L370.56,353.41 L372.09,354.26 L373.62,355.08 L375.15,355.85 L376.68,356.59 L378.21,357.29 L379.74,357.97 L381.26,358.61 L382.79,359.22 L384.32,359.81 L385.85,360.36 L387.38,360.89 L388.91,361.4 L390.44,361.89 L391.97,362.35 L393.5,362.79 L395.03,363.21 L396.56,363.61 L398.09,363.99 L399.62,364.36 L401.15,364.71 L402.68,365.04 L404.21,365.35 L405.74,365.66 L407.26,365.95 L408.79,366.22 L410.32,366.48 L411.85,366.73 L413.38,366.97 L414.91,367.2 L416.44,367.42 L417.97,367.63 L419.5,367.82 L421.03,368.01 L422.56,368.19 L424.09,368.36 L425.62,368.53 L427.15,368.68 L428.68,368.83 L430.21,368.98 L431.74,369.11 L433.26,369.24 L434.79,369.37 L436.32,369.48 L437.85,369.6 L439.38,369.7 L440.91,369.81 L442.44,369.9 L443.97,370 L445.5,370.09 L447.03,370.17 L448.56,370.25 L450.09,370.33 L451.62,370.4 L453.15,370.47 L454.68,370.54 L456.21,370.6 L457.74,370.66 L459.26,370.72 L460.79,370.78 L462.32,370.83 L463.85,370.88 L465.38,370.93 L466.91,370.98 L468.44,371.02 L469.97,371.06 L471.5,371.1 L473.03,371.14 L474.56,371.18 L476.09,371.21 L477.62,371.24 L479.15,371.28 L480.68,371.31 L482.21,371.33 L483.74,371.36 L485.26,371.39 L486.79,371.41 L488.32,371.44 L489.85,371.46 L491.38,371.48 L492.91,371.5 L494.44,371.52 L495.97,371.54 L497.5,371.56" stroke="#5d2d84" stroke-width="1.5" fill="none" stroke-linejoin="round" stroke-linecap="round"/>
<circle cx="315.5" cy="273.3" r="2.7" stroke="#c8102e" stroke-width="0.85" fill="none"/>
<circle cx="320.05" cy="285.43" r="2.7" stroke="#c8102e" stroke-width="0.85" fill="none"/>
<circle cx="324.6" cy="297.66" r="2.7" stroke="#c8102e" stroke-width="0.85" fill="none"/>
<circle cx="329.15" cy="310.81" r="2.7" stroke="#c8102e" stroke-width="0.85" fill="none"/>
<circle cx="333.7" cy="317.1" r="2.7" stroke="#c8102e" stroke-width="0.85" fill="none"/>
<circle cx="338.25" cy="324.78" r="2.7" stroke="#c8102e" stroke-width="0.85" fill="none"/>
<circle cx="342.8" cy="335.39" r="2.7" stroke="#c8102e" stroke-width="0.85" fill="none"/>
<circle cx="347.35" cy="338.33" r="2.7" stroke="#c8102e" stroke-width="0.85" fill="none"/>
<circle cx="351.9" cy="345.84" r="2.7" stroke="#c8102e" stroke-width="0.85" fill="none"/>
<circle cx="361" cy="352.17" r="2.7" stroke="#c8102e" stroke-width="0.85" fill="none"/>
<circle cx="370.1" cy="356.45" r="2.7" stroke="#c8102e" stroke-width="0.85" fill="none"/>
<circle cx="388.3" cy="362.26" r="2.7" stroke="#c8102e" stroke-width="0.85" fill="none"/>
<circle cx="406.5" cy="366.11" r="2.7" stroke="#c8102e" stroke-width="0.85" fill="none"/>
<circle cx="452" cy="366.56" r="2.7" stroke="#c8102e" stroke-width="0.85" fill="none"/>
<circle cx="497.5" cy="366.56" r="2.7" stroke="#c8102e" stroke-width="0.85" fill="none"/>
<path d="M315.5,271.15 L317.03,276.2 L318.56,280.99 L320.09,285.54 L321.62,289.86 L323.15,293.95 L324.68,297.85 L326.21,301.54 L327.74,305.04 L329.26,308.37 L330.79,311.53 L332.32,314.53 L333.85,317.37 L335.38,320.08 L336.91,322.64 L338.44,325.07 L339.97,327.38 L341.5,329.58 L343.03,331.66 L344.56,333.64 L346.09,335.51 L347.62,337.29 L349.15,338.98 L350.68,340.59 L352.21,342.11 L353.74,343.56 L355.26,344.93 L356.79,346.23 L358.32,347.47 L359.85,348.64 L361.38,349.76 L362.91,350.81 L364.44,351.82 L365.97,352.77 L367.5,353.67 L369.03,354.53 L370.56,355.35 L372.09,356.12 L373.62,356.86 L375.15,357.55 L376.68,358.21 L378.21,358.84 L379.74,359.44 L381.26,360.01 L382.79,360.54 L384.32,361.05 L385.85,361.54 L387.38,362 L388.91,362.43 L390.44,362.85 L391.97,363.24 L393.5,363.61 L395.03,363.97 L396.56,364.3 L398.09,364.62 L399.62,364.92 L401.15,365.21 L402.68,365.48 L404.21,365.74 L405.74,365.99 L407.26,366.22 L408.79,366.44 L410.32,366.65 L411.85,366.85 L413.38,367.04 L414.91,367.22 L416.44,367.39 L417.97,367.56 L419.5,367.71 L421.03,367.86 L422.56,368 L424.09,368.13 L425.62,368.25 L427.15,368.37 L428.68,368.48 L430.21,368.59 L431.74,368.69 L433.26,368.79 L434.79,368.88 L436.32,368.97 L437.85,369.05 L439.38,369.13 L440.91,369.2 L442.44,369.27 L443.97,369.34 L445.5,369.4 L447.03,369.46 L448.56,369.52 L450.09,369.57 L451.62,369.62 L453.15,369.67 L454.68,369.72 L456.21,369.76 L457.74,369.81 L459.26,369.85 L460.79,369.88 L462.32,369.92 L463.85,369.95 L465.38,369.98 L466.91,370.02 L468.44,370.04 L469.97,370.07 L471.5,370.1 L473.03,370.12 L474.56,370.15 L476.09,370.17 L477.62,370.19 L479.15,370.21 L480.68,370.23 L482.21,370.25 L483.74,370.26 L485.26,370.28 L486.79,370.3 L488.32,370.31 L489.85,370.33 L491.38,370.34 L492.91,370.35 L494.44,370.36 L495.97,370.37 L497.5,370.39" stroke="#c8102e" stroke-width="1.5" fill="none" stroke-linejoin="round" stroke-linecap="round"/>
<circle cx="315.5" cy="280.56" r="2.7" stroke="#2bb53a" stroke-width="0.85" fill="none"/>
<circle cx="320.05" cy="296.6" r="2.7" stroke="#2bb53a" stroke-width="0.85" fill="none"/>
<circle cx="324.6" cy="307.18" r="2.7" stroke="#2bb53a" stroke-width="0.85" fill="none"/>
<circle cx="329.15" cy="320.64" r="2.7" stroke="#2bb53a" stroke-width="0.85" fill="none"/>
<circle cx="333.7" cy="332.08" r="2.7" stroke="#2bb53a" stroke-width="0.85" fill="none"/>
<circle cx="338.25" cy="336.51" r="2.7" stroke="#2bb53a" stroke-width="0.85" fill="none"/>
<circle cx="342.8" cy="339.6" r="2.7" stroke="#2bb53a" stroke-width="0.85" fill="none"/>
<circle cx="347.35" cy="349.68" r="2.7" stroke="#2bb53a" stroke-width="0.85" fill="none"/>
<circle cx="351.9" cy="350.81" r="2.7" stroke="#2bb53a" stroke-width="0.85" fill="none"/>
<circle cx="361" cy="356.43" r="2.7" stroke="#2bb53a" stroke-width="0.85" fill="none"/>
<circle cx="370.1" cy="360.14" r="2.7" stroke="#2bb53a" stroke-width="0.85" fill="none"/>
<circle cx="388.3" cy="362.87" r="2.7" stroke="#2bb53a" stroke-width="0.85" fill="none"/>
<circle cx="406.5" cy="365.99" r="2.7" stroke="#2bb53a" stroke-width="0.85" fill="none"/>
<circle cx="452" cy="366.56" r="2.7" stroke="#2bb53a" stroke-width="0.85" fill="none"/>
<circle cx="497.5" cy="366.56" r="2.7" stroke="#2bb53a" stroke-width="0.85" fill="none"/>
<path d="M315.5,280.29 L317.03,286.15 L318.56,291.62 L320.09,296.73 L321.62,301.49 L323.15,305.92 L324.68,310.06 L326.21,313.92 L327.74,317.52 L329.26,320.88 L330.79,324.01 L332.32,326.93 L333.85,329.66 L335.38,332.2 L336.91,334.57 L338.44,336.78 L339.97,338.84 L341.5,340.76 L343.03,342.55 L344.56,344.22 L346.09,345.78 L347.62,347.24 L349.15,348.59 L350.68,349.86 L352.21,351.04 L353.74,352.14 L355.26,353.16 L356.79,354.12 L358.32,355.01 L359.85,355.84 L361.38,356.62 L362.91,357.34 L364.44,358.02 L365.97,358.65 L367.5,359.23 L369.03,359.78 L370.56,360.29 L372.09,360.77 L373.62,361.21 L375.15,361.63 L376.68,362.01 L378.21,362.37 L379.74,362.71 L381.26,363.02 L382.79,363.32 L384.32,363.59 L385.85,363.84 L387.38,364.08 L388.91,364.3 L390.44,364.51 L391.97,364.7 L393.5,364.88 L395.03,365.05 L396.56,365.2 L398.09,365.35 L399.62,365.48 L401.15,365.61 L402.68,365.73 L404.21,365.84 L405.74,365.94 L407.26,366.04 L408.79,366.13 L410.32,366.21 L411.85,366.29 L413.38,366.36 L414.91,366.43 L416.44,366.49 L417.97,366.55 L419.5,366.6 L421.03,366.65 L422.56,366.7 L424.09,366.75 L425.62,366.79 L427.15,366.83 L428.68,366.86 L430.21,366.9 L431.74,366.93 L433.26,366.96 L434.79,366.98 L436.32,367.01 L437.85,367.03 L439.38,367.06 L440.91,367.08 L442.44,367.1 L443.97,367.11 L445.5,367.13 L447.03,367.15 L448.56,367.16 L450.09,367.17 L451.62,367.19 L453.15,367.2 L454.68,367.21 L456.21,367.22 L457.74,367.23 L459.26,367.24 L460.79,367.25 L462.32,367.25 L463.85,367.26 L465.38,367.27 L466.91,367.28 L468.44,367.28 L469.97,367.29 L471.5,367.29 L473.03,367.3 L474.56,367.3 L476.09,367.31 L477.62,367.31 L479.15,367.31 L480.68,367.32 L482.21,367.32 L483.74,367.32 L485.26,367.32 L486.79,367.33 L488.32,367.33 L489.85,367.33 L491.38,367.33 L492.91,367.34 L494.44,367.34 L495.97,367.34 L497.5,367.34" stroke="#2bb53a" stroke-width="1.5" fill="none" stroke-linejoin="round" stroke-linecap="round"/>
<circle cx="315.5" cy="272.49" r="2.7" stroke="#184a78" stroke-width="0.85" fill="none"/>
<circle cx="320.05" cy="297.62" r="2.7" stroke="#184a78" stroke-width="0.85" fill="none"/>
<circle cx="324.6" cy="314.72" r="2.7" stroke="#184a78" stroke-width="0.85" fill="none"/>
<circle cx="329.15" cy="330.15" r="2.7" stroke="#184a78" stroke-width="0.85" fill="none"/>
<circle cx="333.7" cy="342.87" r="2.7" stroke="#184a78" stroke-width="0.85" fill="none"/>
<circle cx="338.25" cy="347.32" r="2.7" stroke="#184a78" stroke-width="0.85" fill="none"/>
<circle cx="342.8" cy="356.43" r="2.7" stroke="#184a78" stroke-width="0.85" fill="none"/>
<circle cx="347.35" cy="358.7" r="2.7" stroke="#184a78" stroke-width="0.85" fill="none"/>
<circle cx="351.9" cy="361.28" r="2.7" stroke="#184a78" stroke-width="0.85" fill="none"/>
<circle cx="361" cy="364.41" r="2.7" stroke="#184a78" stroke-width="0.85" fill="none"/>
<circle cx="370.1" cy="366" r="2.7" stroke="#184a78" stroke-width="0.85" fill="none"/>
<circle cx="388.3" cy="367.21" r="2.7" stroke="#184a78" stroke-width="0.85" fill="none"/>
<circle cx="406.5" cy="367.52" r="2.7" stroke="#184a78" stroke-width="0.85" fill="none"/>
<circle cx="452" cy="366.56" r="2.7" stroke="#184a78" stroke-width="0.85" fill="none"/>
<circle cx="497.5" cy="366.56" r="2.7" stroke="#184a78" stroke-width="0.85" fill="none"/>
<path d="M315.5,271.15 L317.03,281.57 L318.56,290.86 L320.09,299.15 L321.62,306.55 L323.15,313.15 L324.68,319.03 L326.21,324.28 L327.74,328.96 L329.26,333.14 L330.79,336.86 L332.32,340.19 L333.85,343.15 L335.38,345.79 L336.91,348.15 L338.44,350.26 L339.97,352.13 L341.5,353.81 L343.03,355.3 L344.56,356.63 L346.09,357.82 L347.62,358.88 L349.15,359.82 L350.68,360.67 L352.21,361.42 L353.74,362.09 L355.26,362.69 L356.79,363.22 L358.32,363.7 L359.85,364.12 L361.38,364.5 L362.91,364.84 L364.44,365.14 L365.97,365.41 L367.5,365.65 L369.03,365.86 L370.56,366.05 L372.09,366.23 L373.62,366.38 L375.15,366.51 L376.68,366.63 L378.21,366.74 L379.74,366.84 L381.26,366.92 L382.79,367 L384.32,367.07 L385.85,367.13 L387.38,367.18 L388.91,367.23 L390.44,367.27 L391.97,367.31 L393.5,367.35 L395.03,367.38 L396.56,367.41 L398.09,367.43 L399.62,367.45 L401.15,367.47 L402.68,367.49 L404.21,367.5 L405.74,367.52 L407.26,367.53 L408.79,367.54 L410.32,367.55 L411.85,367.56 L413.38,367.57 L414.91,367.57 L416.44,367.58 L417.97,367.59 L419.5,367.59 L421.03,367.59 L422.56,367.6 L424.09,367.6 L425.62,367.61 L427.15,367.61 L428.68,367.61 L430.21,367.61 L431.74,367.61 L433.26,367.62 L434.79,367.62 L436.32,367.62 L437.85,367.62 L439.38,367.62 L440.91,367.62 L442.44,367.62 L443.97,367.62 L445.5,367.63 L447.03,367.63 L448.56,367.63 L450.09,367.63 L451.62,367.63 L453.15,367.63 L454.68,367.63 L456.21,367.63 L457.74,367.63 L459.26,367.63 L460.79,367.63 L462.32,367.63 L463.85,367.63 L465.38,367.63 L466.91,367.63 L468.44,367.63 L469.97,367.63 L471.5,367.63 L473.03,367.63 L474.56,367.63 L476.09,367.63 L477.62,367.63 L479.15,367.63 L480.68,367.63 L482.21,367.63 L483.74,367.63 L485.26,367.63 L486.79,367.63 L488.32,367.63 L489.85,367.63 L491.38,367.63 L492.91,367.63 L494.44,367.63 L495.97,367.63 L497.5,367.63" stroke="#184a78" stroke-width="1.5" fill="none" stroke-linejoin="round" stroke-linecap="round"/>
<line x1="315.5" y1="256.4" x2="315.5" y2="381" stroke="#000" stroke-width="1.1"/>
<line x1="312.9" y1="378.65" x2="315.5" y2="378.65" stroke="#000" stroke-width="0.8"/>
<line x1="312.9" y1="367.9" x2="315.5" y2="367.9" stroke="#000" stroke-width="0.8"/>
<line x1="312.9" y1="357.15" x2="315.5" y2="357.15" stroke="#000" stroke-width="0.8"/>
<line x1="312.9" y1="346.4" x2="315.5" y2="346.4" stroke="#000" stroke-width="0.8"/>
<line x1="312.9" y1="335.65" x2="315.5" y2="335.65" stroke="#000" stroke-width="0.8"/>
<line x1="312.9" y1="324.9" x2="315.5" y2="324.9" stroke="#000" stroke-width="0.8"/>
<line x1="312.9" y1="314.15" x2="315.5" y2="314.15" stroke="#000" stroke-width="0.8"/>
<line x1="312.9" y1="303.4" x2="315.5" y2="303.4" stroke="#000" stroke-width="0.8"/>
<line x1="312.9" y1="292.65" x2="315.5" y2="292.65" stroke="#000" stroke-width="0.8"/>
<line x1="312.9" y1="281.9" x2="315.5" y2="281.9" stroke="#000" stroke-width="0.8"/>
<line x1="312.9" y1="271.15" x2="315.5" y2="271.15" stroke="#000" stroke-width="0.8"/>
<line x1="312.9" y1="260.4" x2="315.5" y2="260.4" stroke="#000" stroke-width="0.8"/>
<line x1="311.7" y1="367.9" x2="315.5" y2="367.9" stroke="#000" stroke-width="0.9"/>
<text x="310.2" y="371" font-size="8.4" text-anchor="end" fill="#2b2b2b" font-weight="normal" stroke="#2b2b2b" stroke-width="0.05">0.6</text>
<line x1="311.7" y1="314.15" x2="315.5" y2="314.15" stroke="#000" stroke-width="0.9"/>
<text x="310.2" y="317.25" font-size="8.4" text-anchor="end" fill="#2b2b2b" font-weight="normal" stroke="#2b2b2b" stroke-width="0.05">0.8</text>
<line x1="311.7" y1="260.4" x2="315.5" y2="260.4" stroke="#000" stroke-width="0.9"/>
<text x="310.2" y="263.5" font-size="8.4" text-anchor="end" fill="#2b2b2b" font-weight="normal" stroke="#2b2b2b" stroke-width="0.05">1.0</text>
<line x1="315.5" y1="381" x2="508.5" y2="381" stroke="#000" stroke-width="1.1"/>
<line x1="315.5" y1="381" x2="315.5" y2="383.2" stroke="#000" stroke-width="0.8"/>
<line x1="319.14" y1="381" x2="319.14" y2="383.2" stroke="#000" stroke-width="0.8"/>
<line x1="322.78" y1="381" x2="322.78" y2="383.2" stroke="#000" stroke-width="0.8"/>
<line x1="326.42" y1="381" x2="326.42" y2="383.2" stroke="#000" stroke-width="0.8"/>
<line x1="330.06" y1="381" x2="330.06" y2="383.2" stroke="#000" stroke-width="0.8"/>
<line x1="333.7" y1="381" x2="333.7" y2="383.2" stroke="#000" stroke-width="0.8"/>
<line x1="337.34" y1="381" x2="337.34" y2="383.2" stroke="#000" stroke-width="0.8"/>
<line x1="340.98" y1="381" x2="340.98" y2="383.2" stroke="#000" stroke-width="0.8"/>
<line x1="344.62" y1="381" x2="344.62" y2="383.2" stroke="#000" stroke-width="0.8"/>
<line x1="348.26" y1="381" x2="348.26" y2="383.2" stroke="#000" stroke-width="0.8"/>
<line x1="351.9" y1="381" x2="351.9" y2="383.2" stroke="#000" stroke-width="0.8"/>
<line x1="355.54" y1="381" x2="355.54" y2="383.2" stroke="#000" stroke-width="0.8"/>
<line x1="359.18" y1="381" x2="359.18" y2="383.2" stroke="#000" stroke-width="0.8"/>
<line x1="362.82" y1="381" x2="362.82" y2="383.2" stroke="#000" stroke-width="0.8"/>
<line x1="366.46" y1="381" x2="366.46" y2="383.2" stroke="#000" stroke-width="0.8"/>
<line x1="370.1" y1="381" x2="370.1" y2="383.2" stroke="#000" stroke-width="0.8"/>
<line x1="373.74" y1="381" x2="373.74" y2="383.2" stroke="#000" stroke-width="0.8"/>
<line x1="377.38" y1="381" x2="377.38" y2="383.2" stroke="#000" stroke-width="0.8"/>
<line x1="381.02" y1="381" x2="381.02" y2="383.2" stroke="#000" stroke-width="0.8"/>
<line x1="384.66" y1="381" x2="384.66" y2="383.2" stroke="#000" stroke-width="0.8"/>
<line x1="388.3" y1="381" x2="388.3" y2="383.2" stroke="#000" stroke-width="0.8"/>
<line x1="391.94" y1="381" x2="391.94" y2="383.2" stroke="#000" stroke-width="0.8"/>
<line x1="395.58" y1="381" x2="395.58" y2="383.2" stroke="#000" stroke-width="0.8"/>
<line x1="399.22" y1="381" x2="399.22" y2="383.2" stroke="#000" stroke-width="0.8"/>
<line x1="402.86" y1="381" x2="402.86" y2="383.2" stroke="#000" stroke-width="0.8"/>
<line x1="406.5" y1="381" x2="406.5" y2="383.2" stroke="#000" stroke-width="0.8"/>
<line x1="410.14" y1="381" x2="410.14" y2="383.2" stroke="#000" stroke-width="0.8"/>
<line x1="413.78" y1="381" x2="413.78" y2="383.2" stroke="#000" stroke-width="0.8"/>
<line x1="417.42" y1="381" x2="417.42" y2="383.2" stroke="#000" stroke-width="0.8"/>
<line x1="421.06" y1="381" x2="421.06" y2="383.2" stroke="#000" stroke-width="0.8"/>
<line x1="424.7" y1="381" x2="424.7" y2="383.2" stroke="#000" stroke-width="0.8"/>
<line x1="428.34" y1="381" x2="428.34" y2="383.2" stroke="#000" stroke-width="0.8"/>
<line x1="431.98" y1="381" x2="431.98" y2="383.2" stroke="#000" stroke-width="0.8"/>
<line x1="435.62" y1="381" x2="435.62" y2="383.2" stroke="#000" stroke-width="0.8"/>
<line x1="439.26" y1="381" x2="439.26" y2="383.2" stroke="#000" stroke-width="0.8"/>
<line x1="442.9" y1="381" x2="442.9" y2="383.2" stroke="#000" stroke-width="0.8"/>
<line x1="446.54" y1="381" x2="446.54" y2="383.2" stroke="#000" stroke-width="0.8"/>
<line x1="450.18" y1="381" x2="450.18" y2="383.2" stroke="#000" stroke-width="0.8"/>
<line x1="453.82" y1="381" x2="453.82" y2="383.2" stroke="#000" stroke-width="0.8"/>
<line x1="457.46" y1="381" x2="457.46" y2="383.2" stroke="#000" stroke-width="0.8"/>
<line x1="461.1" y1="381" x2="461.1" y2="383.2" stroke="#000" stroke-width="0.8"/>
<line x1="464.74" y1="381" x2="464.74" y2="383.2" stroke="#000" stroke-width="0.8"/>
<line x1="468.38" y1="381" x2="468.38" y2="383.2" stroke="#000" stroke-width="0.8"/>
<line x1="472.02" y1="381" x2="472.02" y2="383.2" stroke="#000" stroke-width="0.8"/>
<line x1="475.66" y1="381" x2="475.66" y2="383.2" stroke="#000" stroke-width="0.8"/>
<line x1="479.3" y1="381" x2="479.3" y2="383.2" stroke="#000" stroke-width="0.8"/>
<line x1="482.94" y1="381" x2="482.94" y2="383.2" stroke="#000" stroke-width="0.8"/>
<line x1="486.58" y1="381" x2="486.58" y2="383.2" stroke="#000" stroke-width="0.8"/>
<line x1="490.22" y1="381" x2="490.22" y2="383.2" stroke="#000" stroke-width="0.8"/>
<line x1="493.86" y1="381" x2="493.86" y2="383.2" stroke="#000" stroke-width="0.8"/>
<line x1="497.5" y1="381" x2="497.5" y2="383.2" stroke="#000" stroke-width="0.8"/>
<line x1="315.5" y1="381" x2="315.5" y2="384" stroke="#000" stroke-width="0.9"/>
<text x="315.5" y="393.3" font-size="7.8" text-anchor="middle" fill="#2b2b2b" font-weight="normal" stroke="#2b2b2b" stroke-width="0.05">0</text>
<line x1="333.7" y1="381" x2="333.7" y2="384" stroke="#000" stroke-width="0.9"/>
<text x="333.7" y="393.3" font-size="7.8" text-anchor="middle" fill="#2b2b2b" font-weight="normal" stroke="#2b2b2b" stroke-width="0.05">1</text>
<line x1="351.9" y1="381" x2="351.9" y2="384" stroke="#000" stroke-width="0.9"/>
<text x="351.9" y="393.3" font-size="7.8" text-anchor="middle" fill="#2b2b2b" font-weight="normal" stroke="#2b2b2b" stroke-width="0.05">2</text>
<line x1="370.1" y1="381" x2="370.1" y2="384" stroke="#000" stroke-width="0.9"/>
<text x="370.1" y="393.3" font-size="7.8" text-anchor="middle" fill="#2b2b2b" font-weight="normal" stroke="#2b2b2b" stroke-width="0.05">3</text>
<line x1="388.3" y1="381" x2="388.3" y2="384" stroke="#000" stroke-width="0.9"/>
<text x="388.3" y="393.3" font-size="7.8" text-anchor="middle" fill="#2b2b2b" font-weight="normal" stroke="#2b2b2b" stroke-width="0.05">4</text>
<line x1="406.5" y1="381" x2="406.5" y2="384" stroke="#000" stroke-width="0.9"/>
<text x="406.5" y="393.3" font-size="7.8" text-anchor="middle" fill="#2b2b2b" font-weight="normal" stroke="#2b2b2b" stroke-width="0.05">5</text>
<line x1="424.7" y1="381" x2="424.7" y2="384" stroke="#000" stroke-width="0.9"/>
<text x="424.7" y="393.3" font-size="7.8" text-anchor="middle" fill="#2b2b2b" font-weight="normal" stroke="#2b2b2b" stroke-width="0.05">6</text>
<line x1="442.9" y1="381" x2="442.9" y2="384" stroke="#000" stroke-width="0.9"/>
<text x="442.9" y="393.3" font-size="7.8" text-anchor="middle" fill="#2b2b2b" font-weight="normal" stroke="#2b2b2b" stroke-width="0.05">7</text>
<line x1="461.1" y1="381" x2="461.1" y2="384" stroke="#000" stroke-width="0.9"/>
<text x="461.1" y="393.3" font-size="7.8" text-anchor="middle" fill="#2b2b2b" font-weight="normal" stroke="#2b2b2b" stroke-width="0.05">8</text>
<line x1="479.3" y1="381" x2="479.3" y2="384" stroke="#000" stroke-width="0.9"/>
<text x="479.3" y="393.3" font-size="7.8" text-anchor="middle" fill="#2b2b2b" font-weight="normal" stroke="#2b2b2b" stroke-width="0.05">9</text>
<line x1="497.5" y1="381" x2="497.5" y2="384" stroke="#000" stroke-width="0.9"/>
<text x="497.5" y="393.3" font-size="7.8" text-anchor="middle" fill="#2b2b2b" font-weight="normal" stroke="#2b2b2b" stroke-width="0.05">10</text>
<text x="389.9" y="406.2" font-size="9" text-anchor="start" fill="#2b2b2b" font-weight="normal" textLength="33.1" lengthAdjust="spacingAndGlyphs" stroke="#2b2b2b" stroke-width="0.05">RPA, [nM]</text>
<text transform="translate(291.4,320.8) rotate(-90)" x="0" y="0" font-size="8.6" text-anchor="middle" fill="#2b2b2b" stroke="#2b2b2b" stroke-width="0.05" textLength="14.7" lengthAdjust="spacingAndGlyphs">FRET</text>
<line x1="407.8" y1="285.1" x2="421" y2="285.1" stroke="#c8102e" stroke-width="1.4"/>
<circle cx="414.3" cy="285.1" r="2.8" stroke="#c8102e" stroke-width="0.9" fill="none"/>
<text x="423.6" y="287.8" font-size="7.5" fill="#2b2b2b" stroke="#2b2b2b" stroke-width="0.05"><tspan>(TTAGGG)<tspan font-size="4.8" dy="2.0">2</tspan><tspan dy="-2.0">TAA RPA</tspan></tspan><tspan font-size="5" dy="-2.8">WT</tspan></text>
<line x1="407.8" y1="298.37" x2="421" y2="298.37" stroke="#184a78" stroke-width="1.4"/>
<circle cx="414.3" cy="298.37" r="2.8" stroke="#184a78" stroke-width="0.9" fill="none"/>
<text x="423.6" y="301.07" font-size="7.5" fill="#2b2b2b" stroke="#2b2b2b" stroke-width="0.05"><tspan>(TTAGGG)<tspan font-size="4.8" dy="2.0">2</tspan><tspan dy="-2.0">TAA RPA</tspan></tspan><tspan font-size="5" dy="-2.8">E240K</tspan></text>
<line x1="407.8" y1="311.64" x2="421" y2="311.64" stroke="#2bb53a" stroke-width="1.4"/>
<circle cx="414.3" cy="311.64" r="2.8" stroke="#2bb53a" stroke-width="0.9" fill="none"/>
<text x="423.6" y="314.34" font-size="7.5" fill="#2b2b2b" stroke="#2b2b2b" stroke-width="0.05"><tspan>(TTAGGG)<tspan font-size="4.8" dy="2.0">2</tspan><tspan dy="-2.0">TAA RPA</tspan></tspan><tspan font-size="5" dy="-2.8">V227A</tspan></text>
<line x1="407.8" y1="324.91" x2="421" y2="324.91" stroke="#5d2d84" stroke-width="1.4"/>
<circle cx="414.3" cy="324.91" r="2.8" stroke="#5d2d84" stroke-width="0.9" fill="none"/>
<text x="423.6" y="327.61" font-size="7.5" fill="#2b2b2b" stroke="#2b2b2b" stroke-width="0.05"><tspan>(TTAGGG)<tspan font-size="4.8" dy="2.0">2</tspan><tspan dy="-2.0">TAA RPA</tspan></tspan><tspan font-size="5" dy="-2.8">T270A</tspan></text>
<text x="6.4" y="432.7" font-size="11.4" text-anchor="start" fill="#000" font-weight="bold">E</text>
<path d="M45.3,559.4 L46.43,558.55 L47.56,557.51 L48.68,556.4 L49.81,555.25 L50.94,554.08 L52.07,552.91 L53.2,551.73 L54.33,550.57 L55.45,549.41 L56.58,548.26 L57.71,547.13 L58.84,546.01 L59.97,544.91 L61.1,543.83 L62.22,542.77 L63.35,541.73 L64.48,540.71 L65.61,539.71 L66.74,538.72 L67.87,537.76 L68.99,536.81 L70.12,535.89 L71.25,534.98 L72.38,534.1 L73.51,533.23 L74.64,532.38 L75.76,531.55 L76.89,530.73 L78.02,529.94 L79.15,529.16 L80.28,528.39 L81.41,527.65 L82.53,526.91 L83.66,526.2 L84.79,525.5 L85.92,524.81 L87.05,524.14 L88.18,523.48 L89.3,522.84 L90.43,522.2 L91.56,521.59 L92.69,520.98 L93.82,520.39 L94.95,519.81 L96.07,519.24 L97.2,518.68 L98.33,518.13 L99.46,517.59 L100.59,517.07 L101.72,516.55 L102.84,516.05 L103.97,515.55 L105.1,515.06 L106.23,514.59 L107.36,514.12 L108.48,513.66 L109.61,513.21 L110.74,512.77 L111.87,512.33 L113,511.91 L114.13,511.49 L115.25,511.08 L116.38,510.68 L117.51,510.28 L118.64,509.89 L119.77,509.51 L120.9,509.13 L122.02,508.77 L123.15,508.4 L124.28,508.05 L125.41,507.7 L126.54,507.35 L127.67,507.01 L128.79,506.68 L129.92,506.36 L131.05,506.03 L132.18,505.72 L133.31,505.41 L134.44,505.1 L135.56,504.8 L136.69,504.5 L137.82,504.21 L138.95,503.92 L140.08,503.64 L141.21,503.36 L142.33,503.09 L143.46,502.82 L144.59,502.56 L145.72,502.3 L146.85,502.04 L147.98,501.79 L149.1,501.54 L150.23,501.29 L151.36,501.05 L152.49,500.81 L153.62,500.58 L154.75,500.34 L155.87,500.12 L157,499.89 L158.13,499.67 L159.26,499.45 L160.39,499.24 L161.52,499.02 L162.64,498.81 L163.77,498.61 L164.9,498.4 L166.03,498.2 L167.16,498 L168.28,497.81 L169.41,497.62 L170.54,497.43 L171.67,497.24 L172.8,497.05 L173.93,496.87 L175.05,496.69 L176.18,496.51 L177.31,496.34 L178.44,496.17 L179.57,495.99 L180.7,495.83 L181.82,495.66 L182.95,495.49 L184.08,495.33 L185.21,495.17 L186.34,495.01 L187.47,494.86 L188.59,494.7 L189.72,494.55 L190.85,494.4 L191.98,494.25 L193.11,494.1 L194.24,493.96 L195.36,493.81 L196.49,493.67 L197.62,493.53 L198.75,493.39 L199.88,493.26 L201.01,493.12 L202.13,492.99 L203.26,492.85 L204.39,492.72 L205.52,492.59 L206.65,492.47 L207.78,492.34 L208.9,492.22 L210.03,492.09 L211.16,491.97 L212.29,491.85 L213.42,491.73 L214.55,491.61 L215.67,491.5 L216.8,491.38 L217.93,491.27 L219.06,491.15 L220.19,491.04 L221.32,490.93 L222.44,490.82 L223.57,490.71 L224.7,490.61" stroke="#5d2d84" stroke-width="1.5" fill="none" stroke-linejoin="round" stroke-linecap="round"/>
<path d="M45.3,559.4 L46.43,558.38 L47.56,556.99 L48.68,555.46 L49.81,553.85 L50.94,552.2 L52.07,550.52 L53.2,548.85 L54.33,547.18 L55.45,545.53 L56.58,543.9 L57.71,542.3 L58.84,540.74 L59.97,539.2 L61.1,537.7 L62.22,536.24 L63.35,534.82 L64.48,533.43 L65.61,532.08 L66.74,530.77 L67.87,529.49 L68.99,528.25 L70.12,527.04 L71.25,525.87 L72.38,524.74 L73.51,523.63 L74.64,522.56 L75.76,521.52 L76.89,520.51 L78.02,519.53 L79.15,518.58 L80.28,517.65 L81.41,516.76 L82.53,515.88 L83.66,515.03 L84.79,514.21 L85.92,513.41 L87.05,512.63 L88.18,511.87 L89.3,511.14 L90.43,510.42 L91.56,509.73 L92.69,509.05 L93.82,508.39 L94.95,507.75 L96.07,507.12 L97.2,506.51 L98.33,505.92 L99.46,505.34 L100.59,504.78 L101.72,504.23 L102.84,503.7 L103.97,503.18 L105.1,502.67 L106.23,502.17 L107.36,501.69 L108.48,501.22 L109.61,500.76 L110.74,500.31 L111.87,499.87 L113,499.44 L114.13,499.02 L115.25,498.61 L116.38,498.21 L117.51,497.82 L118.64,497.44 L119.77,497.06 L120.9,496.7 L122.02,496.34 L123.15,495.99 L124.28,495.65 L125.41,495.31 L126.54,494.99 L127.67,494.67 L128.79,494.35 L129.92,494.04 L131.05,493.74 L132.18,493.45 L133.31,493.16 L134.44,492.88 L135.56,492.6 L136.69,492.33 L137.82,492.06 L138.95,491.8 L140.08,491.54 L141.21,491.29 L142.33,491.04 L143.46,490.8 L144.59,490.56 L145.72,490.33 L146.85,490.1 L147.98,489.88 L149.1,489.66 L150.23,489.44 L151.36,489.23 L152.49,489.02 L153.62,488.81 L154.75,488.61 L155.87,488.41 L157,488.22 L158.13,488.03 L159.26,487.84 L160.39,487.65 L161.52,487.47 L162.64,487.29 L163.77,487.12 L164.9,486.95 L166.03,486.78 L167.16,486.61 L168.28,486.44 L169.41,486.28 L170.54,486.12 L171.67,485.97 L172.8,485.81 L173.93,485.66 L175.05,485.51 L176.18,485.36 L177.31,485.22 L178.44,485.08 L179.57,484.94 L180.7,484.8 L181.82,484.66 L182.95,484.53 L184.08,484.39 L185.21,484.26 L186.34,484.14 L187.47,484.01 L188.59,483.88 L189.72,483.76 L190.85,483.64 L191.98,483.52 L193.11,483.4 L194.24,483.29 L195.36,483.17 L196.49,483.06 L197.62,482.95 L198.75,482.84 L199.88,482.73 L201.01,482.62 L202.13,482.52 L203.26,482.41 L204.39,482.31 L205.52,482.21 L206.65,482.11 L207.78,482.01 L208.9,481.92 L210.03,481.82 L211.16,481.72 L212.29,481.63 L213.42,481.54 L214.55,481.45 L215.67,481.36 L216.8,481.27 L217.93,481.18 L219.06,481.09 L220.19,481.01 L221.32,480.92 L222.44,480.84 L223.57,480.76 L224.7,480.68" stroke="#c8102e" stroke-width="1.5" fill="none" stroke-linejoin="round" stroke-linecap="round"/>
<path d="M45.3,559.4 L46.43,558.91 L47.56,557.89 L48.68,556.49 L49.81,554.8 L50.94,552.9 L52.07,550.84 L53.2,548.66 L54.33,546.41 L55.45,544.11 L56.58,541.79 L57.71,539.48 L58.84,537.2 L59.97,534.95 L61.1,532.75 L62.22,530.61 L63.35,528.54 L64.48,526.53 L65.61,524.6 L66.74,522.73 L67.87,520.95 L68.99,519.23 L70.12,517.59 L71.25,516.02 L72.38,514.51 L73.51,513.08 L74.64,511.7 L75.76,510.39 L76.89,509.14 L78.02,507.94 L79.15,506.8 L80.28,505.71 L81.41,504.67 L82.53,503.68 L83.66,502.73 L84.79,501.82 L85.92,500.95 L87.05,500.12 L88.18,499.33 L89.3,498.57 L90.43,497.84 L91.56,497.15 L92.69,496.48 L93.82,495.84 L94.95,495.23 L96.07,494.64 L97.2,494.08 L98.33,493.54 L99.46,493.02 L100.59,492.52 L101.72,492.04 L102.84,491.58 L103.97,491.13 L105.1,490.71 L106.23,490.29 L107.36,489.9 L108.48,489.52 L109.61,489.15 L110.74,488.79 L111.87,488.45 L113,488.12 L114.13,487.8 L115.25,487.49 L116.38,487.2 L117.51,486.91 L118.64,486.63 L119.77,486.36 L120.9,486.1 L122.02,485.85 L123.15,485.61 L124.28,485.37 L125.41,485.14 L126.54,484.92 L127.67,484.7 L128.79,484.5 L129.92,484.29 L131.05,484.1 L132.18,483.91 L133.31,483.72 L134.44,483.54 L135.56,483.37 L136.69,483.2 L137.82,483.03 L138.95,482.87 L140.08,482.72 L141.21,482.57 L142.33,482.42 L143.46,482.28 L144.59,482.14 L145.72,482 L146.85,481.87 L147.98,481.74 L149.1,481.61 L150.23,481.49 L151.36,481.37 L152.49,481.25 L153.62,481.14 L154.75,481.03 L155.87,480.92 L157,480.82 L158.13,480.71 L159.26,480.61 L160.39,480.51 L161.52,480.42 L162.64,480.32 L163.77,480.23 L164.9,480.14 L166.03,480.06 L167.16,479.97 L168.28,479.89 L169.41,479.81 L170.54,479.73 L171.67,479.65 L172.8,479.57 L173.93,479.5 L175.05,479.42 L176.18,479.35 L177.31,479.28 L178.44,479.21 L179.57,479.14 L180.7,479.08 L181.82,479.01 L182.95,478.95 L184.08,478.89 L185.21,478.83 L186.34,478.77 L187.47,478.71 L188.59,478.65 L189.72,478.6 L190.85,478.54 L191.98,478.49 L193.11,478.43 L194.24,478.38 L195.36,478.33 L196.49,478.28 L197.62,478.23 L198.75,478.18 L199.88,478.14 L201.01,478.09 L202.13,478.04 L203.26,478 L204.39,477.95 L205.52,477.91 L206.65,477.87 L207.78,477.83 L208.9,477.78 L210.03,477.74 L211.16,477.7 L212.29,477.67 L213.42,477.63 L214.55,477.59 L215.67,477.55 L216.8,477.52 L217.93,477.48 L219.06,477.44 L220.19,477.41 L221.32,477.38 L222.44,477.34 L223.57,477.31 L224.7,477.28" stroke="#2bb53a" stroke-width="1.5" fill="none" stroke-linejoin="round" stroke-linecap="round"/>
<path d="M45.3,559.4 L46.43,557.11 L47.56,554.82 L48.68,552.53 L49.81,550.24 L50.94,547.96 L52.07,545.68 L53.2,543.41 L54.33,541.14 L55.45,538.87 L56.58,536.61 L57.71,534.36 L58.84,532.1 L59.97,529.86 L61.1,527.62 L62.22,525.39 L63.35,523.17 L64.48,520.95 L65.61,518.74 L66.74,516.55 L67.87,514.36 L68.99,512.19 L70.12,510.03 L71.25,507.88 L72.38,505.76 L73.51,503.65 L74.64,501.56 L75.76,499.49 L76.89,497.45 L78.02,495.43 L79.15,493.45 L80.28,491.5 L81.41,489.59 L82.53,487.73 L83.66,485.91 L84.79,484.15 L85.92,482.44 L87.05,480.8 L88.18,479.23 L89.3,477.73 L90.43,476.31 L91.56,474.98 L92.69,473.73 L93.82,472.56 L94.95,471.48 L96.07,470.48 L97.2,469.57 L98.33,468.73 L99.46,467.97 L100.59,467.28 L101.72,466.64 L102.84,466.07 L103.97,465.55 L105.1,465.07 L106.23,464.64 L107.36,464.24 L108.48,463.88 L109.61,463.55 L110.74,463.25 L111.87,462.97 L113,462.72 L114.13,462.48 L115.25,462.26 L116.38,462.06 L117.51,461.87 L118.64,461.69 L119.77,461.53 L120.9,461.38 L122.02,461.24 L123.15,461.1 L124.28,460.98 L125.41,460.86 L126.54,460.75 L127.67,460.64 L128.79,460.55 L129.92,460.45 L131.05,460.36 L132.18,460.28 L133.31,460.2 L134.44,460.12 L135.56,460.05 L136.69,459.98 L137.82,459.92 L138.95,459.85 L140.08,459.79 L141.21,459.74 L142.33,459.68 L143.46,459.63 L144.59,459.58 L145.72,459.53 L146.85,459.49 L147.98,459.44 L149.1,459.4 L150.23,459.36 L151.36,459.32 L152.49,459.28 L153.62,459.24 L154.75,459.21 L155.87,459.17 L157,459.14 L158.13,459.11 L159.26,459.08 L160.39,459.05 L161.52,459.02 L162.64,458.99 L163.77,458.96 L164.9,458.93 L166.03,458.91 L167.16,458.88 L168.28,458.86 L169.41,458.84 L170.54,458.81 L171.67,458.79 L172.8,458.77 L173.93,458.75 L175.05,458.73 L176.18,458.71 L177.31,458.69 L178.44,458.67 L179.57,458.65 L180.7,458.63 L181.82,458.62 L182.95,458.6 L184.08,458.58 L185.21,458.57 L186.34,458.55 L187.47,458.53 L188.59,458.52 L189.72,458.5 L190.85,458.49 L191.98,458.48 L193.11,458.46 L194.24,458.45 L195.36,458.43 L196.49,458.42 L197.62,458.41 L198.75,458.4 L199.88,458.38 L201.01,458.37 L202.13,458.36 L203.26,458.35 L204.39,458.34 L205.52,458.33 L206.65,458.32 L207.78,458.31 L208.9,458.3 L210.03,458.29 L211.16,458.28 L212.29,458.27 L213.42,458.26 L214.55,458.25 L215.67,458.24 L216.8,458.23 L217.93,458.22 L219.06,458.21 L220.19,458.2 L221.32,458.19 L222.44,458.19 L223.57,458.18 L224.7,458.17" stroke="#184a78" stroke-width="1.5" fill="none" stroke-linejoin="round" stroke-linecap="round"/>
<circle cx="67.72" cy="542.19" r="2.7" stroke="#5d2d84" stroke-width="0.9" fill="white"/>
<circle cx="90.15" cy="522.13" r="2.7" stroke="#5d2d84" stroke-width="0.9" fill="white"/>
<circle cx="135" cy="502.42" r="2.7" stroke="#5d2d84" stroke-width="0.9" fill="white"/>
<circle cx="224.7" cy="491.27" r="2.7" stroke="#5d2d84" stroke-width="0.9" fill="white"/>
<line x1="67.72" y1="526.64" x2="67.72" y2="529.01" stroke="#c8102e" stroke-width="0.8"/>
<line x1="65.52" y1="526.64" x2="69.92" y2="526.64" stroke="#c8102e" stroke-width="0.8"/>
<line x1="65.52" y1="529.01" x2="69.92" y2="529.01" stroke="#c8102e" stroke-width="0.8"/>
<circle cx="67.72" cy="527.83" r="2.7" stroke="#c8102e" stroke-width="0.9" fill="white"/>
<line x1="90.15" y1="514.29" x2="90.15" y2="516.67" stroke="#c8102e" stroke-width="0.8"/>
<line x1="87.95" y1="514.29" x2="92.35" y2="514.29" stroke="#c8102e" stroke-width="0.8"/>
<line x1="87.95" y1="516.67" x2="92.35" y2="516.67" stroke="#c8102e" stroke-width="0.8"/>
<circle cx="90.15" cy="515.48" r="2.7" stroke="#c8102e" stroke-width="0.9" fill="white"/>
<line x1="135" y1="488.3" x2="135" y2="495.42" stroke="#c8102e" stroke-width="0.8"/>
<line x1="132.8" y1="488.3" x2="137.2" y2="488.3" stroke="#c8102e" stroke-width="0.8"/>
<line x1="132.8" y1="495.42" x2="137.2" y2="495.42" stroke="#c8102e" stroke-width="0.8"/>
<circle cx="135" cy="491.86" r="2.7" stroke="#c8102e" stroke-width="0.9" fill="white"/>
<line x1="224.7" y1="478.33" x2="224.7" y2="485.45" stroke="#c8102e" stroke-width="0.8"/>
<line x1="222.5" y1="478.33" x2="226.9" y2="478.33" stroke="#c8102e" stroke-width="0.8"/>
<line x1="222.5" y1="485.45" x2="226.9" y2="485.45" stroke="#c8102e" stroke-width="0.8"/>
<circle cx="224.7" cy="481.89" r="2.7" stroke="#c8102e" stroke-width="0.9" fill="white"/>
<line x1="67.72" y1="516.67" x2="67.72" y2="523.79" stroke="#2bb53a" stroke-width="0.8"/>
<line x1="65.52" y1="516.67" x2="69.92" y2="516.67" stroke="#2bb53a" stroke-width="0.8"/>
<line x1="65.52" y1="523.79" x2="69.92" y2="523.79" stroke="#2bb53a" stroke-width="0.8"/>
<circle cx="67.72" cy="520.23" r="2.7" stroke="#2bb53a" stroke-width="0.9" fill="white"/>
<line x1="90.15" y1="498.39" x2="90.15" y2="503.14" stroke="#2bb53a" stroke-width="0.8"/>
<line x1="87.95" y1="498.39" x2="92.35" y2="498.39" stroke="#2bb53a" stroke-width="0.8"/>
<line x1="87.95" y1="503.14" x2="92.35" y2="503.14" stroke="#2bb53a" stroke-width="0.8"/>
<circle cx="90.15" cy="500.76" r="2.7" stroke="#2bb53a" stroke-width="0.9" fill="white"/>
<line x1="135" y1="481.65" x2="135" y2="486.4" stroke="#2bb53a" stroke-width="0.8"/>
<line x1="132.8" y1="481.65" x2="137.2" y2="481.65" stroke="#2bb53a" stroke-width="0.8"/>
<line x1="132.8" y1="486.4" x2="137.2" y2="486.4" stroke="#2bb53a" stroke-width="0.8"/>
<circle cx="135" cy="484.03" r="2.7" stroke="#2bb53a" stroke-width="0.9" fill="white"/>
<line x1="224.7" y1="472.16" x2="224.7" y2="480.46" stroke="#2bb53a" stroke-width="0.8"/>
<line x1="222.5" y1="472.16" x2="226.9" y2="472.16" stroke="#2bb53a" stroke-width="0.8"/>
<line x1="222.5" y1="480.46" x2="226.9" y2="480.46" stroke="#2bb53a" stroke-width="0.8"/>
<circle cx="224.7" cy="476.31" r="2.7" stroke="#2bb53a" stroke-width="0.9" fill="white"/>
<line x1="67.72" y1="494.23" x2="67.72" y2="500.17" stroke="#184a78" stroke-width="0.8"/>
<line x1="65.52" y1="494.23" x2="69.92" y2="494.23" stroke="#184a78" stroke-width="0.8"/>
<line x1="65.52" y1="500.17" x2="69.92" y2="500.17" stroke="#184a78" stroke-width="0.8"/>
<circle cx="67.72" cy="497.2" r="2.7" stroke="#184a78" stroke-width="0.9" fill="white"/>
<line x1="90.15" y1="475" x2="90.15" y2="483.31" stroke="#184a78" stroke-width="0.8"/>
<line x1="87.95" y1="475" x2="92.35" y2="475" stroke="#184a78" stroke-width="0.8"/>
<line x1="87.95" y1="483.31" x2="92.35" y2="483.31" stroke="#184a78" stroke-width="0.8"/>
<circle cx="90.15" cy="479.16" r="2.7" stroke="#184a78" stroke-width="0.9" fill="white"/>
<line x1="135" y1="459.34" x2="135" y2="472.39" stroke="#184a78" stroke-width="0.8"/>
<line x1="132.8" y1="459.34" x2="137.2" y2="459.34" stroke="#184a78" stroke-width="0.8"/>
<line x1="132.8" y1="472.39" x2="137.2" y2="472.39" stroke="#184a78" stroke-width="0.8"/>
<circle cx="135" cy="465.86" r="2.7" stroke="#184a78" stroke-width="0.9" fill="white"/>
<line x1="224.7" y1="452.81" x2="224.7" y2="461.12" stroke="#184a78" stroke-width="0.8"/>
<line x1="222.5" y1="452.81" x2="226.9" y2="452.81" stroke="#184a78" stroke-width="0.8"/>
<line x1="222.5" y1="461.12" x2="226.9" y2="461.12" stroke="#184a78" stroke-width="0.8"/>
<circle cx="224.7" cy="456.96" r="2.7" stroke="#184a78" stroke-width="0.9" fill="white"/>
<line x1="45.3" y1="436.4" x2="45.3" y2="559.4" stroke="#000" stroke-width="1.1"/>
<line x1="42.7" y1="559.4" x2="45.3" y2="559.4" stroke="#000" stroke-width="0.8"/>
<line x1="42.7" y1="553.47" x2="45.3" y2="553.47" stroke="#000" stroke-width="0.8"/>
<line x1="42.7" y1="547.53" x2="45.3" y2="547.53" stroke="#000" stroke-width="0.8"/>
<line x1="42.7" y1="541.6" x2="45.3" y2="541.6" stroke="#000" stroke-width="0.8"/>
<line x1="42.7" y1="535.66" x2="45.3" y2="535.66" stroke="#000" stroke-width="0.8"/>
<line x1="42.7" y1="529.73" x2="45.3" y2="529.73" stroke="#000" stroke-width="0.8"/>
<line x1="42.7" y1="523.79" x2="45.3" y2="523.79" stroke="#000" stroke-width="0.8"/>
<line x1="42.7" y1="517.86" x2="45.3" y2="517.86" stroke="#000" stroke-width="0.8"/>
<line x1="42.7" y1="511.92" x2="45.3" y2="511.92" stroke="#000" stroke-width="0.8"/>
<line x1="42.7" y1="505.98" x2="45.3" y2="505.98" stroke="#000" stroke-width="0.8"/>
<line x1="42.7" y1="500.05" x2="45.3" y2="500.05" stroke="#000" stroke-width="0.8"/>
<line x1="42.7" y1="494.12" x2="45.3" y2="494.12" stroke="#000" stroke-width="0.8"/>
<line x1="42.7" y1="488.18" x2="45.3" y2="488.18" stroke="#000" stroke-width="0.8"/>
<line x1="42.7" y1="482.25" x2="45.3" y2="482.25" stroke="#000" stroke-width="0.8"/>
<line x1="42.7" y1="476.31" x2="45.3" y2="476.31" stroke="#000" stroke-width="0.8"/>
<line x1="42.7" y1="470.38" x2="45.3" y2="470.38" stroke="#000" stroke-width="0.8"/>
<line x1="42.7" y1="464.44" x2="45.3" y2="464.44" stroke="#000" stroke-width="0.8"/>
<line x1="42.7" y1="458.5" x2="45.3" y2="458.5" stroke="#000" stroke-width="0.8"/>
<line x1="42.7" y1="452.57" x2="45.3" y2="452.57" stroke="#000" stroke-width="0.8"/>
<line x1="42.7" y1="446.63" x2="45.3" y2="446.63" stroke="#000" stroke-width="0.8"/>
<line x1="42.7" y1="440.7" x2="45.3" y2="440.7" stroke="#000" stroke-width="0.8"/>
<line x1="41.5" y1="559.4" x2="45.3" y2="559.4" stroke="#000" stroke-width="0.9"/>
<text x="39.3" y="562.5" font-size="8.4" text-anchor="end" fill="#2b2b2b" font-weight="normal" stroke="#2b2b2b" stroke-width="0.05">0</text>
<line x1="41.5" y1="529.73" x2="45.3" y2="529.73" stroke="#000" stroke-width="0.9"/>
<text x="39.3" y="532.83" font-size="8.4" text-anchor="end" fill="#2b2b2b" font-weight="normal" stroke="#2b2b2b" stroke-width="0.05">25</text>
<line x1="41.5" y1="500.05" x2="45.3" y2="500.05" stroke="#000" stroke-width="0.9"/>
<text x="39.3" y="503.15" font-size="8.4" text-anchor="end" fill="#2b2b2b" font-weight="normal" stroke="#2b2b2b" stroke-width="0.05">50</text>
<line x1="41.5" y1="470.38" x2="45.3" y2="470.38" stroke="#000" stroke-width="0.9"/>
<text x="39.3" y="473.48" font-size="8.4" text-anchor="end" fill="#2b2b2b" font-weight="normal" stroke="#2b2b2b" stroke-width="0.05">75</text>
<line x1="41.5" y1="440.7" x2="45.3" y2="440.7" stroke="#000" stroke-width="0.9"/>
<text x="39.3" y="443.8" font-size="8.4" text-anchor="end" fill="#2b2b2b" font-weight="normal" stroke="#2b2b2b" stroke-width="0.05">100</text>
<line x1="45.3" y1="559.4" x2="236.2" y2="559.4" stroke="#000" stroke-width="1.1"/>
<line x1="45.3" y1="559.4" x2="45.3" y2="561.6" stroke="#000" stroke-width="0.8"/>
<line x1="54.27" y1="559.4" x2="54.27" y2="561.6" stroke="#000" stroke-width="0.8"/>
<line x1="63.24" y1="559.4" x2="63.24" y2="561.6" stroke="#000" stroke-width="0.8"/>
<line x1="72.21" y1="559.4" x2="72.21" y2="561.6" stroke="#000" stroke-width="0.8"/>
<line x1="81.18" y1="559.4" x2="81.18" y2="561.6" stroke="#000" stroke-width="0.8"/>
<line x1="90.15" y1="559.4" x2="90.15" y2="561.6" stroke="#000" stroke-width="0.8"/>
<line x1="99.12" y1="559.4" x2="99.12" y2="561.6" stroke="#000" stroke-width="0.8"/>
<line x1="108.09" y1="559.4" x2="108.09" y2="561.6" stroke="#000" stroke-width="0.8"/>
<line x1="117.06" y1="559.4" x2="117.06" y2="561.6" stroke="#000" stroke-width="0.8"/>
<line x1="126.03" y1="559.4" x2="126.03" y2="561.6" stroke="#000" stroke-width="0.8"/>
<line x1="135" y1="559.4" x2="135" y2="561.6" stroke="#000" stroke-width="0.8"/>
<line x1="143.97" y1="559.4" x2="143.97" y2="561.6" stroke="#000" stroke-width="0.8"/>
<line x1="152.94" y1="559.4" x2="152.94" y2="561.6" stroke="#000" stroke-width="0.8"/>
<line x1="161.91" y1="559.4" x2="161.91" y2="561.6" stroke="#000" stroke-width="0.8"/>
<line x1="170.88" y1="559.4" x2="170.88" y2="561.6" stroke="#000" stroke-width="0.8"/>
<line x1="179.85" y1="559.4" x2="179.85" y2="561.6" stroke="#000" stroke-width="0.8"/>
<line x1="188.82" y1="559.4" x2="188.82" y2="561.6" stroke="#000" stroke-width="0.8"/>
<line x1="197.79" y1="559.4" x2="197.79" y2="561.6" stroke="#000" stroke-width="0.8"/>
<line x1="206.76" y1="559.4" x2="206.76" y2="561.6" stroke="#000" stroke-width="0.8"/>
<line x1="215.73" y1="559.4" x2="215.73" y2="561.6" stroke="#000" stroke-width="0.8"/>
<line x1="224.7" y1="559.4" x2="224.7" y2="561.6" stroke="#000" stroke-width="0.8"/>
<line x1="45.3" y1="559.4" x2="45.3" y2="562.4" stroke="#000" stroke-width="0.9"/>
<text x="43.8" y="571.4" font-size="8.4" text-anchor="middle" fill="#2b2b2b" font-weight="normal" stroke="#2b2b2b" stroke-width="0.05">0</text>
<line x1="90.15" y1="559.4" x2="90.15" y2="562.4" stroke="#000" stroke-width="0.9"/>
<text x="88.65" y="571.4" font-size="8.4" text-anchor="middle" fill="#2b2b2b" font-weight="normal" stroke="#2b2b2b" stroke-width="0.05">1</text>
<line x1="135" y1="559.4" x2="135" y2="562.4" stroke="#000" stroke-width="0.9"/>
<text x="133.5" y="571.4" font-size="8.4" text-anchor="middle" fill="#2b2b2b" font-weight="normal" stroke="#2b2b2b" stroke-width="0.05">2</text>
<line x1="179.85" y1="559.4" x2="179.85" y2="562.4" stroke="#000" stroke-width="0.9"/>
<text x="178.35" y="571.4" font-size="8.4" text-anchor="middle" fill="#2b2b2b" font-weight="normal" stroke="#2b2b2b" stroke-width="0.05">3</text>
<line x1="224.7" y1="559.4" x2="224.7" y2="562.4" stroke="#000" stroke-width="0.9"/>
<text x="223.2" y="571.4" font-size="8.4" text-anchor="middle" fill="#2b2b2b" font-weight="normal" stroke="#2b2b2b" stroke-width="0.05">4</text>
<circle cx="45.3" cy="559.4" r="2.9" stroke="#184a78" stroke-width="1.2" fill="white"/>
<text x="116.9" y="582.8" font-size="9" text-anchor="start" fill="#2b2b2b" font-weight="normal" textLength="33.1" lengthAdjust="spacingAndGlyphs" stroke="#2b2b2b" stroke-width="0.05">[RPA], nM</text>
<text transform="translate(21.3,498) rotate(-90)" x="0" y="0" font-size="9" text-anchor="middle" fill="#2b2b2b" stroke="#2b2b2b" stroke-width="0.05" textLength="84" lengthAdjust="spacingAndGlyphs">h-telG4 melting extent, %</text>
<line x1="182.8" y1="515.1" x2="195.2" y2="515.1" stroke="#c8102e" stroke-width="1.4"/>
<circle cx="189.1" cy="515.1" r="2.8" stroke="#c8102e" stroke-width="0.9" fill="white"/>
<text x="198.1" y="517.8" font-size="8.4" fill="#2b2b2b" stroke="#2b2b2b" stroke-width="0.05"><tspan textLength="13" lengthAdjust="spacingAndGlyphs">RPA</tspan><tspan font-size="5.6" dy="2.2">WT</tspan></text>
<line x1="182.8" y1="526.2" x2="195.2" y2="526.2" stroke="#184a78" stroke-width="1.4"/>
<circle cx="189.1" cy="526.2" r="2.8" stroke="#184a78" stroke-width="0.9" fill="white"/>
<text x="198.1" y="528.9" font-size="8.4" fill="#2b2b2b" stroke="#2b2b2b" stroke-width="0.05"><tspan textLength="13" lengthAdjust="spacingAndGlyphs">RPA</tspan><tspan font-size="5.6" dy="2.2">E240K</tspan></text>
<line x1="182.8" y1="537.3" x2="195.2" y2="537.3" stroke="#2bb53a" stroke-width="1.4"/>
<circle cx="189.1" cy="537.3" r="2.8" stroke="#2bb53a" stroke-width="0.9" fill="none"/>
<text x="198.1" y="540" font-size="8.4" fill="#2b2b2b" stroke="#2b2b2b" stroke-width="0.05"><tspan textLength="13" lengthAdjust="spacingAndGlyphs">RPA</tspan><tspan font-size="5.6" dy="2.2">V227A</tspan></text>
<line x1="182.8" y1="548.4" x2="195.2" y2="548.4" stroke="#5d2d84" stroke-width="1.4"/>
<circle cx="189.1" cy="548.4" r="2.8" stroke="#5d2d84" stroke-width="0.9" fill="none"/>
<text x="198.1" y="551.1" font-size="8.4" fill="#2b2b2b" stroke="#2b2b2b" stroke-width="0.05"><tspan textLength="13" lengthAdjust="spacingAndGlyphs">RPA</tspan><tspan font-size="5.6" dy="2.2">T270A</tspan></text>
<text x="277.9" y="433" font-size="11.4" text-anchor="start" fill="#000" font-weight="bold">F</text>
<path d="M315.6,559.4 L316.72,558.06 L317.83,556.58 L318.95,555.09 L320.06,553.6 L321.18,552.13 L322.29,550.69 L323.41,549.27 L324.53,547.88 L325.64,546.52 L326.76,545.19 L327.87,543.9 L328.99,542.64 L330.1,541.41 L331.22,540.22 L332.34,539.05 L333.45,537.91 L334.57,536.81 L335.68,535.73 L336.8,534.68 L337.91,533.66 L339.03,532.66 L340.15,531.69 L341.26,530.74 L342.38,529.82 L343.49,528.92 L344.61,528.05 L345.72,527.2 L346.84,526.36 L347.96,525.55 L349.07,524.76 L350.19,523.98 L351.3,523.23 L352.42,522.49 L353.53,521.77 L354.65,521.07 L355.77,520.39 L356.88,519.72 L358,519.06 L359.11,518.42 L360.23,517.79 L361.34,517.18 L362.46,516.58 L363.58,516 L364.69,515.43 L365.81,514.87 L366.92,514.32 L368.04,513.78 L369.15,513.26 L370.27,512.74 L371.39,512.24 L372.5,511.74 L373.62,511.26 L374.73,510.79 L375.85,510.32 L376.96,509.87 L378.08,509.42 L379.2,508.98 L380.31,508.56 L381.43,508.14 L382.54,507.72 L383.66,507.32 L384.77,506.92 L385.89,506.53 L387.01,506.15 L388.12,505.77 L389.24,505.4 L390.35,505.04 L391.47,504.68 L392.58,504.33 L393.7,503.99 L394.82,503.65 L395.93,503.32 L397.05,503 L398.16,502.67 L399.28,502.36 L400.39,502.05 L401.51,501.75 L402.63,501.45 L403.74,501.15 L404.86,500.86 L405.97,500.58 L407.09,500.3 L408.21,500.02 L409.32,499.75 L410.44,499.48 L411.55,499.22 L412.67,498.96 L413.78,498.7 L414.9,498.45 L416.02,498.2 L417.13,497.96 L418.25,497.72 L419.36,497.48 L420.48,497.25 L421.59,497.02 L422.71,496.79 L423.83,496.57 L424.94,496.35 L426.06,496.14 L427.17,495.92 L428.29,495.71 L429.4,495.5 L430.52,495.3 L431.64,495.1 L432.75,494.9 L433.87,494.7 L434.98,494.51 L436.1,494.32 L437.21,494.13 L438.33,493.94 L439.45,493.76 L440.56,493.58 L441.68,493.4 L442.79,493.22 L443.91,493.05 L445.02,492.88 L446.14,492.71 L447.26,492.54 L448.37,492.38 L449.49,492.21 L450.6,492.05 L451.72,491.89 L452.83,491.73 L453.95,491.58 L455.07,491.43 L456.18,491.27 L457.3,491.12 L458.41,490.98 L459.53,490.83 L460.64,490.69 L461.76,490.54 L462.88,490.4 L463.99,490.26 L465.11,490.13 L466.22,489.99 L467.34,489.85 L468.45,489.72 L469.57,489.59 L470.69,489.46 L471.8,489.33 L472.92,489.2 L474.03,489.08 L475.15,488.95 L476.26,488.83 L477.38,488.71 L478.5,488.59 L479.61,488.47 L480.73,488.35 L481.84,488.24 L482.96,488.12 L484.07,488.01 L485.19,487.9 L486.31,487.78 L487.42,487.67 L488.54,487.56 L489.65,487.46 L490.77,487.35 L491.88,487.24 L493,487.14" stroke="#5d2d84" stroke-width="1.5" fill="none" stroke-linejoin="round" stroke-linecap="round"/>
<path d="M315.6,559.4 L316.72,557.03 L317.83,555.14 L318.95,553.43 L320.06,551.83 L321.18,550.32 L322.29,548.87 L323.41,547.47 L324.53,546.13 L325.64,544.83 L326.76,543.57 L327.87,542.35 L328.99,541.16 L330.1,539.99 L331.22,538.86 L332.34,537.76 L333.45,536.68 L334.57,535.62 L335.68,534.58 L336.8,533.57 L337.91,532.57 L339.03,531.6 L340.15,530.64 L341.26,529.7 L342.38,528.78 L343.49,527.87 L344.61,526.98 L345.72,526.11 L346.84,525.25 L347.96,524.4 L349.07,523.56 L350.19,522.74 L351.3,521.94 L352.42,521.14 L353.53,520.35 L354.65,519.58 L355.77,518.82 L356.88,518.07 L358,517.33 L359.11,516.6 L360.23,515.88 L361.34,515.17 L362.46,514.47 L363.58,513.77 L364.69,513.09 L365.81,512.42 L366.92,511.75 L368.04,511.1 L369.15,510.45 L370.27,509.8 L371.39,509.17 L372.5,508.55 L373.62,507.93 L374.73,507.32 L375.85,506.71 L376.96,506.12 L378.08,505.52 L379.2,504.94 L380.31,504.36 L381.43,503.79 L382.54,503.23 L383.66,502.67 L384.77,502.12 L385.89,501.57 L387.01,501.03 L388.12,500.5 L389.24,499.97 L390.35,499.45 L391.47,498.93 L392.58,498.41 L393.7,497.91 L394.82,497.4 L395.93,496.91 L397.05,496.41 L398.16,495.93 L399.28,495.44 L400.39,494.96 L401.51,494.49 L402.63,494.02 L403.74,493.56 L404.86,493.1 L405.97,492.64 L407.09,492.19 L408.21,491.74 L409.32,491.3 L410.44,490.86 L411.55,490.42 L412.67,489.99 L413.78,489.56 L414.9,489.14 L416.02,488.72 L417.13,488.3 L418.25,487.89 L419.36,487.48 L420.48,487.07 L421.59,486.67 L422.71,486.27 L423.83,485.87 L424.94,485.48 L426.06,485.09 L427.17,484.71 L428.29,484.32 L429.4,483.94 L430.52,483.57 L431.64,483.19 L432.75,482.82 L433.87,482.45 L434.98,482.09 L436.1,481.73 L437.21,481.37 L438.33,481.01 L439.45,480.66 L440.56,480.31 L441.68,479.96 L442.79,479.62 L443.91,479.27 L445.02,478.93 L446.14,478.6 L447.26,478.26 L448.37,477.93 L449.49,477.6 L450.6,477.27 L451.72,476.95 L452.83,476.63 L453.95,476.31 L455.07,475.99 L456.18,475.67 L457.3,475.36 L458.41,475.05 L459.53,474.74 L460.64,474.43 L461.76,474.13 L462.88,473.82 L463.99,473.52 L465.11,473.23 L466.22,472.93 L467.34,472.64 L468.45,472.34 L469.57,472.05 L470.69,471.77 L471.8,471.48 L472.92,471.2 L474.03,470.91 L475.15,470.63 L476.26,470.36 L477.38,470.08 L478.5,469.8 L479.61,469.53 L480.73,469.26 L481.84,468.99 L482.96,468.72 L484.07,468.46 L485.19,468.19 L486.31,467.93 L487.42,467.67 L488.54,467.41 L489.65,467.15 L490.77,466.9 L491.88,466.64 L493,466.39" stroke="#c8102e" stroke-width="1.5" fill="none" stroke-linejoin="round" stroke-linecap="round"/>
<path d="M315.6,559.4 L316.72,557.02 L317.83,554.69 L318.95,552.39 L320.06,550.13 L321.18,547.91 L322.29,545.74 L323.41,543.61 L324.53,541.52 L325.64,539.48 L326.76,537.49 L327.87,535.54 L328.99,533.64 L330.1,531.79 L331.22,529.99 L332.34,528.23 L333.45,526.53 L334.57,524.87 L335.68,523.27 L336.8,521.71 L337.91,520.2 L339.03,518.74 L340.15,517.33 L341.26,515.96 L342.38,514.65 L343.49,513.37 L344.61,512.14 L345.72,510.96 L346.84,509.81 L347.96,508.71 L349.07,507.65 L350.19,506.63 L351.3,505.64 L352.42,504.7 L353.53,503.78 L354.65,502.9 L355.77,502.06 L356.88,501.24 L358,500.46 L359.11,499.71 L360.23,498.98 L361.34,498.28 L362.46,497.61 L363.58,496.96 L364.69,496.33 L365.81,495.73 L366.92,495.15 L368.04,494.59 L369.15,494.05 L370.27,493.53 L371.39,493.02 L372.5,492.54 L373.62,492.07 L374.73,491.62 L375.85,491.18 L376.96,490.76 L378.08,490.35 L379.2,489.96 L380.31,489.57 L381.43,489.2 L382.54,488.85 L383.66,488.5 L384.77,488.16 L385.89,487.84 L387.01,487.52 L388.12,487.22 L389.24,486.92 L390.35,486.63 L391.47,486.36 L392.58,486.08 L393.7,485.82 L394.82,485.57 L395.93,485.32 L397.05,485.07 L398.16,484.84 L399.28,484.61 L400.39,484.39 L401.51,484.17 L402.63,483.96 L403.74,483.76 L404.86,483.56 L405.97,483.36 L407.09,483.17 L408.21,482.99 L409.32,482.81 L410.44,482.63 L411.55,482.46 L412.67,482.29 L413.78,482.13 L414.9,481.97 L416.02,481.81 L417.13,481.66 L418.25,481.51 L419.36,481.36 L420.48,481.22 L421.59,481.08 L422.71,480.95 L423.83,480.81 L424.94,480.68 L426.06,480.56 L427.17,480.43 L428.29,480.31 L429.4,480.19 L430.52,480.07 L431.64,479.96 L432.75,479.85 L433.87,479.74 L434.98,479.63 L436.1,479.52 L437.21,479.42 L438.33,479.32 L439.45,479.22 L440.56,479.12 L441.68,479.02 L442.79,478.93 L443.91,478.84 L445.02,478.75 L446.14,478.66 L447.26,478.57 L448.37,478.48 L449.49,478.4 L450.6,478.32 L451.72,478.24 L452.83,478.16 L453.95,478.08 L455.07,478 L456.18,477.92 L457.3,477.85 L458.41,477.78 L459.53,477.7 L460.64,477.63 L461.76,477.56 L462.88,477.49 L463.99,477.43 L465.11,477.36 L466.22,477.29 L467.34,477.23 L468.45,477.17 L469.57,477.1 L470.69,477.04 L471.8,476.98 L472.92,476.92 L474.03,476.86 L475.15,476.8 L476.26,476.75 L477.38,476.69 L478.5,476.64 L479.61,476.58 L480.73,476.53 L481.84,476.47 L482.96,476.42 L484.07,476.37 L485.19,476.32 L486.31,476.27 L487.42,476.22 L488.54,476.17 L489.65,476.12 L490.77,476.08 L491.88,476.03 L493,475.98" stroke="#2bb53a" stroke-width="1.5" fill="none" stroke-linejoin="round" stroke-linecap="round"/>
<path d="M315.6,559.4 L316.72,556.81 L317.83,554.24 L318.95,551.69 L320.06,549.16 L321.18,546.66 L322.29,544.17 L323.41,541.71 L324.53,539.27 L325.64,536.85 L326.76,534.47 L327.87,532.11 L328.99,529.78 L330.1,527.48 L331.22,525.22 L332.34,522.99 L333.45,520.8 L334.57,518.64 L335.68,516.52 L336.8,514.45 L337.91,512.41 L339.03,510.42 L340.15,508.47 L341.26,506.57 L342.38,504.72 L343.49,502.91 L344.61,501.16 L345.72,499.45 L346.84,497.8 L347.96,496.2 L349.07,494.65 L350.19,493.15 L351.3,491.7 L352.42,490.31 L353.53,488.96 L354.65,487.67 L355.77,486.43 L356.88,485.23 L358,484.09 L359.11,482.99 L360.23,481.94 L361.34,480.93 L362.46,479.97 L363.58,479.04 L364.69,478.16 L365.81,477.32 L366.92,476.51 L368.04,475.74 L369.15,475 L370.27,474.29 L371.39,473.62 L372.5,472.97 L373.62,472.35 L374.73,471.76 L375.85,471.2 L376.96,470.66 L378.08,470.14 L379.2,469.64 L380.31,469.17 L381.43,468.71 L382.54,468.28 L383.66,467.86 L384.77,467.45 L385.89,467.07 L387.01,466.7 L388.12,466.34 L389.24,466 L390.35,465.67 L391.47,465.35 L392.58,465.04 L393.7,464.75 L394.82,464.46 L395.93,464.19 L397.05,463.93 L398.16,463.67 L399.28,463.42 L400.39,463.19 L401.51,462.96 L402.63,462.73 L403.74,462.52 L404.86,462.31 L405.97,462.11 L407.09,461.92 L408.21,461.73 L409.32,461.54 L410.44,461.37 L411.55,461.19 L412.67,461.03 L413.78,460.86 L414.9,460.71 L416.02,460.55 L417.13,460.4 L418.25,460.26 L419.36,460.12 L420.48,459.98 L421.59,459.85 L422.71,459.72 L423.83,459.59 L424.94,459.47 L426.06,459.35 L427.17,459.24 L428.29,459.12 L429.4,459.01 L430.52,458.9 L431.64,458.8 L432.75,458.69 L433.87,458.59 L434.98,458.5 L436.1,458.4 L437.21,458.31 L438.33,458.22 L439.45,458.13 L440.56,458.04 L441.68,457.95 L442.79,457.87 L443.91,457.79 L445.02,457.71 L446.14,457.63 L447.26,457.55 L448.37,457.48 L449.49,457.4 L450.6,457.33 L451.72,457.26 L452.83,457.19 L453.95,457.13 L455.07,457.06 L456.18,456.99 L457.3,456.93 L458.41,456.87 L459.53,456.81 L460.64,456.75 L461.76,456.69 L462.88,456.63 L463.99,456.57 L465.11,456.52 L466.22,456.46 L467.34,456.41 L468.45,456.35 L469.57,456.3 L470.69,456.25 L471.8,456.2 L472.92,456.15 L474.03,456.1 L475.15,456.06 L476.26,456.01 L477.38,455.96 L478.5,455.92 L479.61,455.87 L480.73,455.83 L481.84,455.79 L482.96,455.74 L484.07,455.7 L485.19,455.66 L486.31,455.62 L487.42,455.58 L488.54,455.54 L489.65,455.5 L490.77,455.46 L491.88,455.43 L493,455.39" stroke="#184a78" stroke-width="1.5" fill="none" stroke-linejoin="round" stroke-linecap="round"/>
<circle cx="337.8" cy="536.8" r="2.7" stroke="#5d2d84" stroke-width="0.9" fill="white"/>
<circle cx="360.2" cy="518.3" r="2.7" stroke="#5d2d84" stroke-width="0.9" fill="white"/>
<circle cx="404.2" cy="499.1" r="2.7" stroke="#5d2d84" stroke-width="0.9" fill="white"/>
<circle cx="493.2" cy="487" r="2.7" stroke="#5d2d84" stroke-width="0.9" fill="white"/>
<line x1="337.8" y1="527.5" x2="337.8" y2="532" stroke="#c8102e" stroke-width="0.8"/>
<line x1="335.6" y1="527.5" x2="340" y2="527.5" stroke="#c8102e" stroke-width="0.8"/>
<line x1="335.6" y1="532" x2="340" y2="532" stroke="#c8102e" stroke-width="0.8"/>
<circle cx="337.8" cy="529.7" r="2.7" stroke="#c8102e" stroke-width="0.9" fill="white"/>
<circle cx="360.2" cy="514.9" r="2.7" stroke="#c8102e" stroke-width="0.9" fill="white"/>
<circle cx="404.2" cy="494.8" r="2.7" stroke="#c8102e" stroke-width="0.9" fill="white"/>
<circle cx="493.2" cy="466.3" r="2.7" stroke="#c8102e" stroke-width="0.9" fill="white"/>
<circle cx="337.8" cy="516" r="2.7" stroke="#2bb53a" stroke-width="0.9" fill="white"/>
<circle cx="360.2" cy="500.7" r="2.7" stroke="#2bb53a" stroke-width="0.9" fill="white"/>
<circle cx="404.2" cy="485.8" r="2.7" stroke="#2bb53a" stroke-width="0.9" fill="white"/>
<circle cx="493.2" cy="475.8" r="2.7" stroke="#2bb53a" stroke-width="0.9" fill="white"/>
<line x1="337.8" y1="493.4" x2="337.8" y2="513.3" stroke="#184a78" stroke-width="0.8"/>
<line x1="335.6" y1="493.4" x2="340" y2="493.4" stroke="#184a78" stroke-width="0.8"/>
<line x1="335.6" y1="513.3" x2="340" y2="513.3" stroke="#184a78" stroke-width="0.8"/>
<circle cx="337.8" cy="503.5" r="2.7" stroke="#184a78" stroke-width="0.9" fill="white"/>
<circle cx="360.2" cy="483" r="2.7" stroke="#184a78" stroke-width="0.9" fill="white"/>
<line x1="404.2" y1="462" x2="404.2" y2="475" stroke="#184a78" stroke-width="0.8"/>
<line x1="402" y1="462" x2="406.4" y2="462" stroke="#184a78" stroke-width="0.8"/>
<line x1="402" y1="475" x2="406.4" y2="475" stroke="#184a78" stroke-width="0.8"/>
<circle cx="404.2" cy="468.8" r="2.7" stroke="#184a78" stroke-width="0.9" fill="white"/>
<line x1="493.2" y1="445.7" x2="493.2" y2="459.5" stroke="#184a78" stroke-width="0.8"/>
<line x1="491" y1="445.7" x2="495.4" y2="445.7" stroke="#184a78" stroke-width="0.8"/>
<line x1="491" y1="459.5" x2="495.4" y2="459.5" stroke="#184a78" stroke-width="0.8"/>
<circle cx="493.2" cy="453" r="2.7" stroke="#184a78" stroke-width="0.9" fill="white"/>
<line x1="315.6" y1="436.8" x2="315.6" y2="559.4" stroke="#000" stroke-width="1.1"/>
<line x1="313" y1="559.4" x2="315.6" y2="559.4" stroke="#000" stroke-width="0.8"/>
<line x1="313" y1="551.5" x2="315.6" y2="551.5" stroke="#000" stroke-width="0.8"/>
<line x1="313" y1="543.6" x2="315.6" y2="543.6" stroke="#000" stroke-width="0.8"/>
<line x1="313" y1="535.7" x2="315.6" y2="535.7" stroke="#000" stroke-width="0.8"/>
<line x1="313" y1="527.8" x2="315.6" y2="527.8" stroke="#000" stroke-width="0.8"/>
<line x1="313" y1="519.9" x2="315.6" y2="519.9" stroke="#000" stroke-width="0.8"/>
<line x1="313" y1="512" x2="315.6" y2="512" stroke="#000" stroke-width="0.8"/>
<line x1="313" y1="504.1" x2="315.6" y2="504.1" stroke="#000" stroke-width="0.8"/>
<line x1="313" y1="496.2" x2="315.6" y2="496.2" stroke="#000" stroke-width="0.8"/>
<line x1="313" y1="488.3" x2="315.6" y2="488.3" stroke="#000" stroke-width="0.8"/>
<line x1="313" y1="480.4" x2="315.6" y2="480.4" stroke="#000" stroke-width="0.8"/>
<line x1="313" y1="472.5" x2="315.6" y2="472.5" stroke="#000" stroke-width="0.8"/>
<line x1="313" y1="464.6" x2="315.6" y2="464.6" stroke="#000" stroke-width="0.8"/>
<line x1="313" y1="456.7" x2="315.6" y2="456.7" stroke="#000" stroke-width="0.8"/>
<line x1="313" y1="448.8" x2="315.6" y2="448.8" stroke="#000" stroke-width="0.8"/>
<line x1="313" y1="440.9" x2="315.6" y2="440.9" stroke="#000" stroke-width="0.8"/>
<line x1="311.8" y1="559.4" x2="315.6" y2="559.4" stroke="#000" stroke-width="0.9"/>
<text x="309.6" y="562.5" font-size="8.4" text-anchor="end" fill="#2b2b2b" font-weight="normal" stroke="#2b2b2b" stroke-width="0.05">0</text>
<line x1="311.8" y1="519.9" x2="315.6" y2="519.9" stroke="#000" stroke-width="0.9"/>
<text x="309.6" y="523" font-size="8.4" text-anchor="end" fill="#2b2b2b" font-weight="normal" stroke="#2b2b2b" stroke-width="0.05">5</text>
<line x1="311.8" y1="480.4" x2="315.6" y2="480.4" stroke="#000" stroke-width="0.9"/>
<text x="309.6" y="483.5" font-size="8.4" text-anchor="end" fill="#2b2b2b" font-weight="normal" stroke="#2b2b2b" stroke-width="0.05">10</text>
<line x1="311.8" y1="440.9" x2="315.6" y2="440.9" stroke="#000" stroke-width="0.9"/>
<text x="309.6" y="444" font-size="8.4" text-anchor="end" fill="#2b2b2b" font-weight="normal" stroke="#2b2b2b" stroke-width="0.05">15</text>
<line x1="315.6" y1="559.4" x2="508.1" y2="559.4" stroke="#000" stroke-width="1.1"/>
<line x1="315.6" y1="559.4" x2="315.6" y2="561.6" stroke="#000" stroke-width="0.8"/>
<line x1="324.47" y1="559.4" x2="324.47" y2="561.6" stroke="#000" stroke-width="0.8"/>
<line x1="333.34" y1="559.4" x2="333.34" y2="561.6" stroke="#000" stroke-width="0.8"/>
<line x1="342.21" y1="559.4" x2="342.21" y2="561.6" stroke="#000" stroke-width="0.8"/>
<line x1="351.08" y1="559.4" x2="351.08" y2="561.6" stroke="#000" stroke-width="0.8"/>
<line x1="359.95" y1="559.4" x2="359.95" y2="561.6" stroke="#000" stroke-width="0.8"/>
<line x1="368.82" y1="559.4" x2="368.82" y2="561.6" stroke="#000" stroke-width="0.8"/>
<line x1="377.69" y1="559.4" x2="377.69" y2="561.6" stroke="#000" stroke-width="0.8"/>
<line x1="386.56" y1="559.4" x2="386.56" y2="561.6" stroke="#000" stroke-width="0.8"/>
<line x1="395.43" y1="559.4" x2="395.43" y2="561.6" stroke="#000" stroke-width="0.8"/>
<line x1="404.3" y1="559.4" x2="404.3" y2="561.6" stroke="#000" stroke-width="0.8"/>
<line x1="413.17" y1="559.4" x2="413.17" y2="561.6" stroke="#000" stroke-width="0.8"/>
<line x1="422.04" y1="559.4" x2="422.04" y2="561.6" stroke="#000" stroke-width="0.8"/>
<line x1="430.91" y1="559.4" x2="430.91" y2="561.6" stroke="#000" stroke-width="0.8"/>
<line x1="439.78" y1="559.4" x2="439.78" y2="561.6" stroke="#000" stroke-width="0.8"/>
<line x1="448.65" y1="559.4" x2="448.65" y2="561.6" stroke="#000" stroke-width="0.8"/>
<line x1="457.52" y1="559.4" x2="457.52" y2="561.6" stroke="#000" stroke-width="0.8"/>
<line x1="466.39" y1="559.4" x2="466.39" y2="561.6" stroke="#000" stroke-width="0.8"/>
<line x1="475.26" y1="559.4" x2="475.26" y2="561.6" stroke="#000" stroke-width="0.8"/>
<line x1="484.13" y1="559.4" x2="484.13" y2="561.6" stroke="#000" stroke-width="0.8"/>
<line x1="493" y1="559.4" x2="493" y2="561.6" stroke="#000" stroke-width="0.8"/>
<line x1="315.6" y1="559.4" x2="315.6" y2="562.4" stroke="#000" stroke-width="0.9"/>
<text x="315.6" y="571.4" font-size="8.4" text-anchor="middle" fill="#2b2b2b" font-weight="normal" stroke="#2b2b2b" stroke-width="0.05">0</text>
<line x1="359.95" y1="559.4" x2="359.95" y2="562.4" stroke="#000" stroke-width="0.9"/>
<text x="359.95" y="571.4" font-size="8.4" text-anchor="middle" fill="#2b2b2b" font-weight="normal" stroke="#2b2b2b" stroke-width="0.05">1</text>
<line x1="404.3" y1="559.4" x2="404.3" y2="562.4" stroke="#000" stroke-width="0.9"/>
<text x="404.3" y="571.4" font-size="8.4" text-anchor="middle" fill="#2b2b2b" font-weight="normal" stroke="#2b2b2b" stroke-width="0.05">2</text>
<line x1="448.65" y1="559.4" x2="448.65" y2="562.4" stroke="#000" stroke-width="0.9"/>
<text x="448.65" y="571.4" font-size="8.4" text-anchor="middle" fill="#2b2b2b" font-weight="normal" stroke="#2b2b2b" stroke-width="0.05">3</text>
<line x1="493" y1="559.4" x2="493" y2="562.4" stroke="#000" stroke-width="0.9"/>
<text x="493" y="571.4" font-size="8.4" text-anchor="middle" fill="#2b2b2b" font-weight="normal" stroke="#2b2b2b" stroke-width="0.05">4</text>
<circle cx="315.6" cy="559.4" r="2.9" stroke="#184a78" stroke-width="1.2" fill="white"/>
<text x="387.3" y="582.6" font-size="9" text-anchor="start" fill="#2b2b2b" font-weight="normal" textLength="33.1" lengthAdjust="spacingAndGlyphs" stroke="#2b2b2b" stroke-width="0.05">[RPA], nM</text>
<text transform="translate(296.3,500) rotate(-90)" x="0" y="0" font-size="9" text-anchor="middle" fill="#2b2b2b" stroke="#2b2b2b" stroke-width="0.05" textLength="98.5" lengthAdjust="spacingAndGlyphs">h-telG4 melting rate, pM/min</text>
<line x1="466.3" y1="515.9" x2="479.3" y2="515.9" stroke="#c8102e" stroke-width="1.4"/>
<circle cx="472.9" cy="515.9" r="2.8" stroke="#c8102e" stroke-width="0.9" fill="white"/>
<text x="481.7" y="518.6" font-size="8" fill="#2b2b2b" stroke="#2b2b2b" stroke-width="0.05"><tspan textLength="13.7" lengthAdjust="spacingAndGlyphs">RPA</tspan><tspan font-size="4.9" dy="-2.8">WT</tspan></text>
<line x1="466.3" y1="526.9" x2="479.3" y2="526.9" stroke="#184a78" stroke-width="1.4"/>
<circle cx="472.9" cy="526.9" r="2.8" stroke="#184a78" stroke-width="0.9" fill="white"/>
<text x="481.7" y="529.6" font-size="8" fill="#2b2b2b" stroke="#2b2b2b" stroke-width="0.05"><tspan textLength="13.7" lengthAdjust="spacingAndGlyphs">RPA</tspan><tspan font-size="4.9" dy="-2.8">E240K</tspan></text>
<line x1="466.3" y1="537.9" x2="479.3" y2="537.9" stroke="#2bb53a" stroke-width="1.4"/>
<circle cx="472.9" cy="537.9" r="2.8" stroke="#2bb53a" stroke-width="0.9" fill="none"/>
<text x="481.7" y="540.6" font-size="8" fill="#2b2b2b" stroke="#2b2b2b" stroke-width="0.05"><tspan textLength="13.7" lengthAdjust="spacingAndGlyphs">RPA</tspan><tspan font-size="4.9" dy="-2.8">V227A</tspan></text>
<line x1="466.3" y1="548.9" x2="479.3" y2="548.9" stroke="#5d2d84" stroke-width="1.4"/>
<circle cx="472.9" cy="548.9" r="2.8" stroke="#5d2d84" stroke-width="0.9" fill="none"/>
<text x="481.7" y="551.6" font-size="8" fill="#2b2b2b" stroke="#2b2b2b" stroke-width="0.05"><tspan textLength="13.7" lengthAdjust="spacingAndGlyphs">RPA</tspan><tspan font-size="4.9" dy="-2.8">T270A</tspan></text>
<rect x="0.5" y="0.5" width="519" height="591" fill="none" stroke="#000" stroke-width="1"/>
</svg>
</body></html>
